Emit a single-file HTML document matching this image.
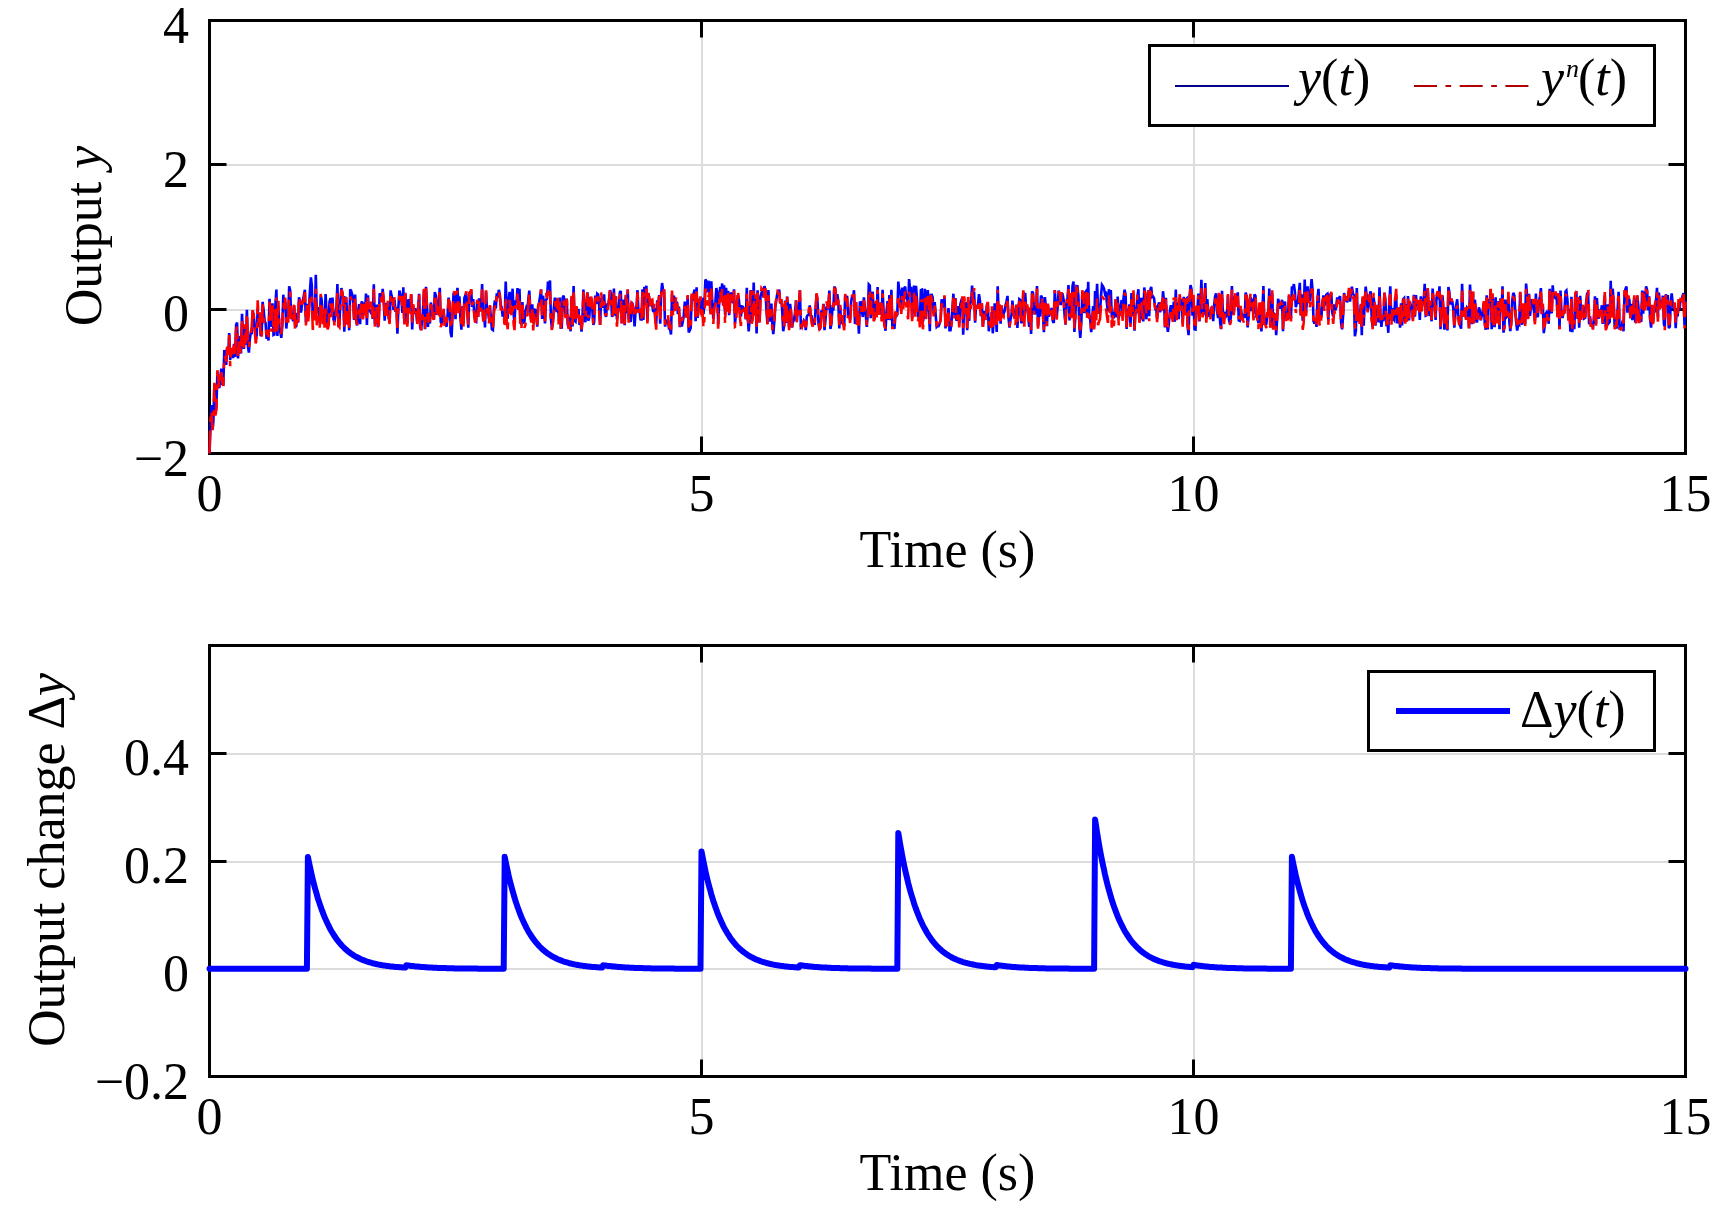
<!DOCTYPE html>
<html><head><meta charset="utf-8"><style>
html,body{margin:0;padding:0;background:#fff;overflow:hidden;}
svg{display:block;font-family:"Liberation Serif", serif;will-change:transform;}
</style></head><body><svg width="1732" height="1205" viewBox="0 0 1732 1205"><line x1="702" y1="20.5" x2="702" y2="453.5" stroke="#dcdcdc" stroke-width="2"/>
<line x1="1194" y1="20.5" x2="1194" y2="453.5" stroke="#dcdcdc" stroke-width="2"/>
<line x1="209.5" y1="165" x2="1685.5" y2="165" stroke="#dcdcdc" stroke-width="2"/>
<line x1="209.5" y1="310" x2="1685.5" y2="310" stroke="#dcdcdc" stroke-width="2"/>
<rect x="209.5" y="20.5" width="1476.0" height="433.0" fill="none" stroke="#000" stroke-width="3"/>
<line x1="701.5" y1="453.5" x2="701.5" y2="436.5" stroke="#000" stroke-width="3"/>
<line x1="701.5" y1="20.5" x2="701.5" y2="37.5" stroke="#000" stroke-width="3"/>
<line x1="1193.5" y1="453.5" x2="1193.5" y2="436.5" stroke="#000" stroke-width="3"/>
<line x1="1193.5" y1="20.5" x2="1193.5" y2="37.5" stroke="#000" stroke-width="3"/>
<line x1="209.5" y1="164.5" x2="226.5" y2="164.5" stroke="#000" stroke-width="3"/>
<line x1="1685.5" y1="164.5" x2="1668.5" y2="164.5" stroke="#000" stroke-width="3"/>
<line x1="209.5" y1="309.5" x2="226.5" y2="309.5" stroke="#000" stroke-width="3"/>
<line x1="1685.5" y1="309.5" x2="1668.5" y2="309.5" stroke="#000" stroke-width="3"/>
<g fill="none" stroke-linejoin="miter" stroke-miterlimit="3">
<polyline points="209.5,453.5 210.5,425.1 211.5,405.1 212.5,429.8 213.4,420.9 214.4,384.2 215.4,414.2 216.4,406.1 217.4,372.1 218.4,383.3 219.3,388.1 220.3,377.4 221.3,368.7 222.3,384.0 223.3,384.4 224.3,350.1 225.2,354.6 226.2,365.0 227.2,347.6 228.2,354.8 229.2,333.0 230.2,360.0 231.1,348.5 232.1,352.4 233.1,358.1 234.1,343.9 235.1,356.9 236.1,324.8 237.1,322.5 238.0,358.4 239.0,336.1 240.0,348.7 241.0,353.4 242.0,313.9 243.0,333.7 243.9,348.9 244.9,326.2 245.9,344.8 246.9,309.8 247.9,346.7 248.9,352.6 249.8,339.1 250.8,332.7 251.8,332.8 252.8,310.5 253.8,317.0 254.8,327.2 255.7,337.4 256.7,335.4 257.7,308.2 258.7,326.8 259.7,314.0 260.7,336.1 261.7,332.5 262.6,301.8 263.6,310.0 264.6,320.7 265.6,323.1 266.6,338.8 267.6,332.7 268.5,340.5 269.5,298.9 270.5,314.4 271.5,326.9 272.5,303.2 273.5,334.9 274.4,334.4 275.4,304.9 276.4,289.5 277.4,336.0 278.4,306.8 279.4,328.0 280.3,332.0 281.3,337.9 282.3,326.1 283.3,294.7 284.3,310.1 285.3,302.3 286.3,328.5 287.2,319.6 288.2,316.5 289.2,286.3 290.2,290.5 291.2,319.1 292.2,314.7 293.1,321.2 294.1,305.9 295.1,325.5 296.1,327.1 297.1,312.8 298.1,322.7 299.0,297.4 300.0,300.9 301.0,312.7 302.0,305.1 303.0,300.1 304.0,294.4 304.9,289.7 305.9,322.6 306.9,303.7 307.9,314.7 308.9,308.5 309.9,291.5 310.9,277.4 311.8,285.4 312.8,318.9 313.8,308.7 314.8,319.3 315.8,274.8 316.8,313.0 317.7,309.2 318.7,307.3 319.7,323.7 320.7,295.9 321.7,299.9 322.7,321.1 323.6,311.4 324.6,320.1 325.6,294.0 326.6,312.8 327.6,325.3 328.6,323.1 329.5,301.9 330.5,298.1 331.5,312.6 332.5,297.6 333.5,319.3 334.5,322.3 335.5,313.6 336.4,307.7 337.4,284.0 338.4,325.0 339.4,324.3 340.4,300.9 341.4,288.1 342.3,292.8 343.3,299.0 344.3,331.8 345.3,297.7 346.3,298.1 347.3,322.3 348.2,314.5 349.2,330.3 350.2,289.3 351.2,291.0 352.2,294.4 353.2,301.8 354.1,320.0 355.1,294.5 356.1,319.8 357.1,325.4 358.1,311.2 359.1,304.1 360.1,324.2 361.0,304.7 362.0,301.4 363.0,314.6 364.0,302.3 365.0,314.6 366.0,293.6 366.9,325.0 367.9,295.3 368.9,308.7 369.9,310.9 370.9,312.6 371.9,309.4 372.8,318.8 373.8,284.3 374.8,324.0 375.8,317.3 376.8,304.6 377.8,327.2 378.7,321.3 379.7,293.2 380.7,295.4 381.7,301.0 382.7,288.9 383.7,301.9 384.7,320.8 385.6,302.9 386.6,315.8 387.6,303.2 388.6,317.5 389.6,322.2 390.6,290.4 391.5,295.6 392.5,299.4 393.5,310.0 394.5,299.7 395.5,312.0 396.5,307.4 397.4,333.8 398.4,307.4 399.4,290.5 400.4,294.6 401.4,299.2 402.4,313.0 403.3,287.2 404.3,322.7 405.3,292.7 406.3,315.8 407.3,323.8 408.3,299.2 409.3,302.7 410.2,309.0 411.2,294.2 412.2,329.4 413.2,306.9 414.2,314.1 415.2,308.2 416.1,312.7 417.1,322.0 418.1,309.4 419.1,293.9 420.1,326.8 421.1,330.0 422.0,320.9 423.0,310.8 424.0,289.9 425.0,329.1 426.0,286.9 427.0,305.5 427.9,327.0 428.9,314.4 429.9,323.5 430.9,302.5 431.9,311.4 432.9,315.7 433.9,319.4 434.8,292.1 435.8,295.5 436.8,314.6 437.8,311.6 438.8,300.1 439.8,287.9 440.7,321.7 441.7,324.3 442.7,320.1 443.7,313.4 444.7,320.1 445.7,325.0 446.6,326.6 447.6,314.6 448.6,297.7 449.6,303.9 450.6,332.6 451.6,337.1 452.5,315.4 453.5,294.9 454.5,295.7 455.5,319.3 456.5,295.7 457.5,287.8 458.5,308.7 459.4,296.4 460.4,317.4 461.4,329.7 462.4,306.2 463.4,323.5 464.4,297.7 465.3,295.6 466.3,293.3 467.3,311.3 468.3,327.7 469.3,295.4 470.3,291.8 471.2,291.3 472.2,306.8 473.2,299.1 474.2,312.3 475.2,321.5 476.2,322.0 477.1,302.0 478.1,317.0 479.1,298.4 480.1,306.7 481.1,311.3 482.1,284.0 483.1,319.8 484.0,311.1 485.0,327.4 486.0,291.4 487.0,310.4 488.0,311.1 489.0,319.3 489.9,306.4 490.9,317.4 491.9,329.4 492.9,330.1 493.9,308.4 494.9,300.5 495.8,308.5 496.8,293.4 497.8,297.8 498.8,289.8 499.8,294.4 500.8,305.2 501.7,307.5 502.7,316.5 503.7,314.0 504.7,318.6 505.7,281.5 506.7,306.8 507.7,318.6 508.6,300.8 509.6,292.0 510.6,302.3 511.6,305.3 512.6,288.7 513.6,314.1 514.5,323.0 515.5,300.4 516.5,303.1 517.5,288.0 518.5,302.2 519.5,288.8 520.4,321.8 521.4,324.7 522.4,302.0 523.4,322.5 524.4,321.9 525.4,311.2 526.3,307.7 527.3,309.8 528.3,299.7 529.3,290.6 530.3,310.4 531.3,320.9 532.3,304.3 533.2,323.3 534.2,308.3 535.2,318.0 536.2,309.0 537.2,326.8 538.2,305.8 539.1,302.5 540.1,296.4 541.1,289.5 542.1,319.0 543.1,295.7 544.1,308.7 545.0,323.4 546.0,300.0 547.0,298.5 548.0,281.5 549.0,286.0 550.0,280.5 550.9,318.1 551.9,328.3 552.9,322.4 553.9,307.6 554.9,297.7 555.9,310.4 556.9,311.0 557.8,297.8 558.8,319.1 559.8,297.5 560.8,327.6 561.8,327.5 562.8,297.4 563.7,295.5 564.7,306.4 565.7,315.8 566.7,298.5 567.7,324.2 568.7,327.6 569.6,316.7 570.6,331.3 571.6,297.2 572.6,326.5 573.6,286.0 574.6,320.6 575.5,321.5 576.5,307.1 577.5,317.8 578.5,308.8 579.5,325.0 580.5,319.3 581.5,331.7 582.4,320.4 583.4,289.5 584.4,317.1 585.4,322.2 586.4,303.2 587.4,292.4 588.3,320.8 589.3,317.4 590.3,299.3 591.3,300.3 592.3,309.3 593.3,324.9 594.2,322.1 595.2,295.6 596.2,304.0 597.2,293.6 598.2,294.5 599.2,306.3 600.1,324.9 601.1,297.8 602.1,307.7 603.1,304.7 604.1,294.4 605.1,314.0 606.1,316.9 607.0,303.5 608.0,305.6 609.0,300.6 610.0,290.1 611.0,294.0 612.0,316.8 612.9,314.8 613.9,288.6 614.9,315.6 615.9,296.2 616.9,319.4 617.9,313.1 618.8,309.3 619.8,292.5 620.8,291.0 621.8,323.3 622.8,305.2 623.8,299.8 624.7,325.1 625.7,296.9 626.7,313.2 627.7,289.9 628.7,319.2 629.7,311.9 630.7,322.0 631.6,302.1 632.6,303.8 633.6,312.5 634.6,326.3 635.6,310.1 636.6,305.5 637.5,290.2 638.5,312.0 639.5,310.2 640.5,319.4 641.5,319.5 642.5,289.4 643.4,319.9 644.4,286.8 645.4,293.2 646.4,285.7 647.4,321.2 648.4,293.2 649.3,300.2 650.3,302.8 651.3,301.7 652.3,305.7 653.3,312.1 654.3,307.9 655.3,316.8 656.2,324.3 657.2,300.4 658.2,309.7 659.2,295.0 660.2,323.7 661.2,293.5 662.1,283.0 663.1,290.5 664.1,290.8 665.1,326.6 666.1,319.6 667.1,323.0 668.0,320.0 669.0,328.3 670.0,328.2 671.0,334.5 672.0,294.2 673.0,311.5 673.9,295.5 674.9,308.2 675.9,305.8 676.9,301.6 677.9,314.1 678.9,306.5 679.9,327.1 680.8,317.4 681.8,326.5 682.8,321.5 683.8,315.6 684.8,301.7 685.8,314.2 686.7,317.2 687.7,296.4 688.7,332.4 689.7,330.4 690.7,327.9 691.7,295.6 692.6,300.4 693.6,293.7 694.6,289.6 695.6,321.3 696.6,287.3 697.6,317.8 698.5,308.3 699.5,300.6 700.5,301.2 701.5,314.6 702.5,297.8 703.5,314.1 704.5,302.5 705.4,279.5 706.4,281.1 707.4,292.4 708.4,280.9 709.4,284.9 710.4,312.6 711.3,281.2 712.3,301.8 713.3,319.0 714.3,304.6 715.3,303.3 716.3,288.0 717.2,292.0 718.2,324.2 719.2,301.6 720.2,286.9 721.2,293.5 722.2,283.5 723.1,305.3 724.1,285.4 725.1,314.8 726.1,287.7 727.1,311.2 728.1,290.9 729.1,315.1 730.0,299.8 731.0,292.4 732.0,300.1 733.0,303.1 734.0,289.3 735.0,324.0 735.9,314.6 736.9,303.2 737.9,295.5 738.9,299.5 739.9,312.9 740.9,316.7 741.8,306.5 742.8,306.8 743.8,311.9 744.8,309.2 745.8,319.4 746.8,287.7 747.7,317.5 748.7,331.3 749.7,318.6 750.7,290.0 751.7,322.5 752.7,317.5 753.7,282.5 754.6,312.0 755.6,296.9 756.6,333.5 757.6,290.2 758.6,322.1 759.6,319.1 760.5,296.2 761.5,292.8 762.5,291.0 763.5,297.2 764.5,286.1 765.5,291.1 766.4,308.8 767.4,323.8 768.4,290.1 769.4,315.6 770.4,321.6 771.4,303.6 772.3,323.5 773.3,334.1 774.3,321.7 775.3,306.7 776.3,300.3 777.3,293.4 778.3,293.1 779.2,289.6 780.2,303.3 781.2,299.1 782.2,310.2 783.2,331.2 784.2,325.3 785.1,300.5 786.1,323.0 787.1,296.6 788.1,308.2 789.1,327.3 790.1,303.8 791.0,311.5 792.0,327.6 793.0,321.8 794.0,320.0 795.0,313.1 796.0,300.3 796.9,321.2 797.9,307.7 798.9,306.5 799.9,290.3 800.9,327.5 801.9,326.6 802.9,323.8 803.8,320.7 804.8,322.3 805.8,330.2 806.8,316.6 807.8,315.0 808.8,314.6 809.7,305.5 810.7,315.6 811.7,316.1 812.7,323.7 813.7,319.6 814.7,324.9 815.6,308.4 816.6,293.8 817.6,303.4 818.6,324.5 819.6,330.1 820.6,325.1 821.5,310.3 822.5,316.7 823.5,303.9 824.5,330.2 825.5,319.5 826.5,306.4 827.5,308.9 828.4,303.8 829.4,290.5 830.4,328.9 831.4,323.8 832.4,308.8 833.4,309.1 834.3,286.6 835.3,289.0 836.3,300.1 837.3,294.3 838.3,301.6 839.3,328.5 840.2,306.7 841.2,324.1 842.2,316.2 843.2,319.1 844.2,326.3 845.2,295.7 846.1,300.0 847.1,295.9 848.1,317.7 849.1,312.4 850.1,319.9 851.1,302.4 852.1,296.1 853.0,298.7 854.0,290.2 855.0,323.9 856.0,302.0 857.0,324.5 858.0,313.8 858.9,333.8 859.9,302.6 860.9,302.4 861.9,311.5 862.9,317.0 863.9,297.4 864.8,306.7 865.8,315.1 866.8,326.8 867.8,313.3 868.8,284.5 869.8,285.6 870.7,318.3 871.7,298.7 872.7,291.7 873.7,315.3 874.7,316.8 875.7,302.5 876.7,316.3 877.6,287.1 878.6,313.2 879.6,304.4 880.6,303.9 881.6,314.9 882.6,289.9 883.5,309.8 884.5,323.5 885.5,330.8 886.5,312.1 887.5,301.0 888.5,320.0 889.4,295.0 890.4,320.2 891.4,289.9 892.4,328.5 893.4,320.3 894.4,329.0 895.3,317.3 896.3,316.1 897.3,314.6 898.3,281.6 899.3,292.0 900.3,289.8 901.3,305.8 902.2,287.5 903.2,295.8 904.2,288.5 905.2,286.6 906.2,298.9 907.2,297.4 908.1,307.1 909.1,279.0 910.1,290.6 911.1,286.8 912.1,317.5 913.1,307.8 914.0,285.6 915.0,307.0 916.0,285.9 917.0,299.2 918.0,317.5 919.0,312.1 919.9,318.7 920.9,290.1 921.9,289.7 922.9,321.7 923.9,315.8 924.9,288.9 925.9,315.0 926.8,300.5 927.8,290.0 928.8,308.7 929.8,331.3 930.8,295.0 931.8,294.9 932.7,297.5 933.7,312.4 934.7,302.2 935.7,315.4 936.7,326.9 937.7,325.9 938.6,326.1 939.6,323.7 940.6,319.5 941.6,299.3 942.6,304.1 943.6,307.3 944.5,296.5 945.5,328.5 946.5,316.0 947.5,323.3 948.5,308.0 949.5,330.1 950.5,330.1 951.4,323.3 952.4,308.3 953.4,293.7 954.4,314.8 955.4,298.1 956.4,320.7 957.3,318.5 958.3,306.1 959.3,322.1 960.3,304.5 961.3,300.6 962.3,297.7 963.2,334.8 964.2,301.6 965.2,307.9 966.2,302.0 967.2,330.2 968.2,300.8 969.1,321.0 970.1,302.1 971.1,301.9 972.1,285.6 973.1,304.3 974.1,291.5 975.1,322.7 976.0,305.7 977.0,308.2 978.0,303.9 979.0,294.2 980.0,300.9 981.0,316.1 981.9,305.8 982.9,327.0 983.9,314.9 984.9,311.0 985.9,317.0 986.9,305.0 987.8,302.8 988.8,331.3 989.8,317.2 990.8,322.9 991.8,312.1 992.8,333.3 993.7,319.3 994.7,303.3 995.7,311.4 996.7,332.0 997.7,286.2 998.7,316.5 999.7,304.7 1000.6,323.8 1001.6,305.7 1002.6,317.0 1003.6,313.8 1004.6,311.1 1005.6,304.9 1006.5,301.3 1007.5,295.9 1008.5,317.8 1009.5,327.7 1010.5,319.2 1011.5,315.4 1012.4,300.5 1013.4,311.7 1014.4,311.8 1015.4,315.5 1016.4,304.6 1017.4,327.9 1018.3,312.6 1019.3,299.2 1020.3,300.0 1021.3,323.3 1022.3,319.5 1023.3,291.6 1024.3,318.9 1025.2,292.8 1026.2,309.9 1027.2,308.4 1028.2,315.7 1029.2,326.8 1030.2,310.4 1031.1,333.9 1032.1,291.4 1033.1,293.1 1034.1,313.3 1035.1,311.6 1036.1,314.2 1037.0,286.1 1038.0,326.5 1039.0,314.0 1040.0,314.7 1041.0,295.6 1042.0,297.3 1042.9,313.4 1043.9,332.3 1044.9,297.1 1045.9,307.1 1046.9,326.1 1047.9,305.2 1048.9,316.7 1049.8,313.2 1050.8,311.0 1051.8,308.0 1052.8,321.1 1053.8,322.9 1054.8,290.0 1055.7,305.1 1056.7,317.0 1057.7,306.3 1058.7,290.5 1059.7,296.9 1060.7,305.2 1061.6,292.7 1062.6,294.2 1063.6,299.6 1064.6,315.1 1065.6,324.7 1066.6,302.3 1067.5,297.7 1068.5,285.0 1069.5,320.4 1070.5,295.4 1071.5,317.3 1072.5,286.1 1073.5,281.4 1074.4,332.0 1075.4,315.3 1076.4,286.1 1077.4,286.2 1078.4,295.9 1079.4,327.5 1080.3,337.9 1081.3,323.0 1082.3,293.8 1083.3,302.8 1084.3,313.1 1085.3,292.2 1086.2,291.0 1087.2,317.8 1088.2,281.8 1089.2,313.7 1090.2,319.5 1091.2,332.2 1092.1,322.5 1093.1,306.2 1094.1,327.4 1095.1,291.0 1096.1,306.3 1097.1,283.8 1098.1,312.8 1099.0,312.8 1100.0,312.5 1101.0,295.8 1102.0,284.9 1103.0,286.3 1104.0,288.6 1104.9,293.5 1105.9,291.7 1106.9,303.2 1107.9,311.5 1108.9,289.2 1109.9,304.6 1110.8,290.1 1111.8,317.6 1112.8,312.0 1113.8,318.4 1114.8,309.7 1115.8,299.0 1116.7,317.5 1117.7,296.5 1118.7,319.4 1119.7,306.2 1120.7,305.4 1121.7,300.0 1122.7,314.9 1123.6,297.2 1124.6,289.7 1125.6,294.7 1126.6,329.0 1127.6,308.9 1128.6,311.7 1129.5,304.4 1130.5,325.2 1131.5,293.0 1132.5,315.9 1133.5,293.9 1134.5,330.7 1135.4,309.4 1136.4,310.7 1137.4,296.6 1138.4,289.2 1139.4,321.3 1140.4,318.6 1141.3,297.7 1142.3,311.0 1143.3,321.5 1144.3,287.5 1145.3,297.2 1146.3,319.3 1147.3,307.0 1148.2,290.2 1149.2,316.3 1150.2,290.0 1151.2,286.9 1152.2,297.1 1153.2,296.7 1154.1,298.3 1155.1,307.9 1156.1,307.2 1157.1,318.6 1158.1,305.8 1159.1,302.4 1160.0,312.3 1161.0,308.3 1162.0,310.4 1163.0,291.2 1164.0,301.5 1165.0,327.4 1165.9,297.7 1166.9,324.0 1167.9,331.9 1168.9,322.8 1169.9,310.6 1170.9,305.3 1171.9,308.6 1172.8,318.7 1173.8,301.5 1174.8,321.7 1175.8,289.5 1176.8,317.6 1177.8,302.5 1178.7,319.2 1179.7,297.6 1180.7,303.8 1181.7,299.1 1182.7,323.5 1183.7,296.9 1184.6,312.8 1185.6,299.9 1186.6,298.8 1187.6,326.7 1188.6,335.2 1189.6,296.8 1190.5,285.0 1191.5,289.2 1192.5,315.7 1193.5,298.5 1194.5,329.2 1195.5,329.5 1196.5,309.5 1197.4,309.3 1198.4,293.6 1199.4,321.4 1200.4,308.1 1201.4,279.7 1202.4,313.3 1203.3,315.1 1204.3,307.6 1205.3,283.1 1206.3,318.7 1207.3,299.1 1208.3,312.7 1209.2,315.7 1210.2,315.5 1211.2,308.9 1212.2,306.2 1213.2,321.1 1214.2,304.6 1215.1,296.6 1216.1,293.3 1217.1,311.1 1218.1,318.0 1219.1,294.5 1220.1,322.1 1221.1,329.1 1222.0,290.8 1223.0,317.2 1224.0,317.5 1225.0,311.6 1226.0,316.3 1227.0,314.8 1227.9,295.6 1228.9,319.6 1229.9,323.8 1230.9,316.6 1231.9,286.1 1232.9,313.2 1233.8,312.9 1234.8,297.2 1235.8,296.0 1236.8,305.7 1237.8,292.4 1238.8,320.4 1239.7,320.8 1240.7,308.6 1241.7,314.0 1242.7,315.4 1243.7,316.3 1244.7,317.9 1245.7,292.5 1246.6,295.9 1247.6,327.4 1248.6,317.6 1249.6,300.3 1250.6,296.9 1251.6,311.2 1252.5,298.6 1253.5,314.2 1254.5,294.3 1255.5,296.2 1256.5,317.0 1257.5,317.7 1258.4,323.1 1259.4,305.7 1260.4,305.9 1261.4,331.4 1262.4,312.2 1263.4,286.1 1264.3,322.3 1265.3,322.3 1266.3,324.9 1267.3,312.9 1268.3,314.4 1269.3,288.5 1270.3,326.4 1271.2,322.0 1272.2,293.6 1273.2,328.6 1274.2,313.9 1275.2,314.9 1276.2,335.2 1277.1,319.5 1278.1,298.9 1279.1,303.0 1280.1,308.6 1281.1,304.8 1282.1,299.7 1283.0,331.3 1284.0,305.3 1285.0,301.5 1286.0,318.6 1287.0,313.8 1288.0,318.9 1288.9,296.1 1289.9,313.5 1290.9,319.0 1291.9,286.5 1292.9,288.9 1293.9,284.1 1294.9,292.1 1295.8,307.1 1296.8,303.2 1297.8,303.0 1298.8,293.5 1299.8,282.8 1300.8,315.4 1301.7,294.2 1302.7,320.7 1303.7,314.3 1304.7,279.6 1305.7,314.3 1306.7,304.2 1307.6,286.4 1308.6,298.2 1309.6,301.3 1310.6,290.3 1311.6,279.2 1312.6,290.5 1313.5,321.0 1314.5,323.4 1315.5,318.3 1316.5,326.9 1317.5,298.3 1318.5,288.9 1319.5,314.6 1320.4,317.4 1321.4,316.5 1322.4,303.9 1323.4,295.3 1324.4,306.0 1325.4,299.1 1326.3,294.8 1327.3,294.0 1328.3,320.8 1329.3,295.0 1330.3,295.6 1331.3,293.4 1332.2,312.4 1333.2,316.5 1334.2,304.4 1335.2,310.4 1336.2,307.5 1337.2,297.5 1338.1,302.0 1339.1,298.0 1340.1,296.2 1341.1,323.0 1342.1,329.4 1343.1,315.8 1344.1,293.0 1345.0,301.6 1346.0,296.3 1347.0,302.4 1348.0,297.0 1349.0,290.7 1350.0,301.7 1350.9,294.4 1351.9,286.6 1352.9,293.3 1353.9,295.1 1354.9,336.2 1355.9,330.3 1356.8,288.0 1357.8,321.4 1358.8,319.3 1359.8,318.9 1360.8,304.9 1361.8,335.3 1362.7,298.0 1363.7,325.8 1364.7,302.3 1365.7,286.7 1366.7,296.0 1367.7,310.9 1368.7,305.9 1369.6,295.6 1370.6,291.2 1371.6,314.9 1372.6,327.3 1373.6,297.4 1374.6,305.7 1375.5,325.7 1376.5,304.9 1377.5,312.1 1378.5,322.5 1379.5,287.2 1380.5,314.9 1381.4,326.8 1382.4,317.4 1383.4,321.1 1384.4,292.7 1385.4,299.5 1386.4,326.2 1387.3,318.3 1388.3,332.8 1389.3,301.9 1390.3,286.4 1391.3,320.4 1392.3,308.1 1393.3,318.8 1394.2,320.0 1395.2,297.8 1396.2,297.0 1397.2,323.4 1398.2,307.6 1399.2,315.8 1400.1,327.7 1401.1,303.3 1402.1,325.4 1403.1,299.2 1404.1,298.1 1405.1,322.2 1406.0,304.0 1407.0,319.4 1408.0,296.0 1409.0,320.4 1410.0,302.0 1411.0,306.6 1411.9,306.9 1412.9,319.1 1413.9,294.7 1414.9,316.7 1415.9,295.1 1416.9,305.2 1417.9,306.0 1418.8,301.8 1419.8,320.0 1420.8,296.4 1421.8,306.8 1422.8,303.5 1423.8,298.0 1424.7,283.9 1425.7,315.8 1426.7,315.3 1427.7,288.3 1428.7,309.2 1429.7,316.0 1430.6,304.2 1431.6,321.3 1432.6,288.6 1433.6,301.0 1434.6,304.5 1435.6,320.0 1436.5,297.8 1437.5,294.1 1438.5,299.2 1439.5,286.4 1440.5,329.1 1441.5,305.8 1442.5,295.5 1443.4,310.1 1444.4,329.8 1445.4,307.2 1446.4,323.0 1447.4,330.4 1448.4,287.1 1449.3,291.6 1450.3,304.4 1451.3,300.3 1452.3,301.7 1453.3,308.3 1454.3,327.7 1455.2,316.1 1456.2,305.1 1457.2,299.3 1458.2,314.2 1459.2,323.0 1460.2,325.9 1461.1,328.6 1462.1,283.7 1463.1,315.3 1464.1,315.7 1465.1,308.2 1466.1,319.2 1467.1,307.8 1468.0,308.9 1469.0,328.3 1470.0,284.6 1471.0,305.0 1472.0,324.1 1473.0,291.7 1473.9,323.3 1474.9,299.7 1475.9,314.5 1476.9,322.6 1477.9,314.7 1478.9,307.4 1479.8,310.7 1480.8,320.3 1481.8,315.6 1482.8,311.0 1483.8,302.8 1484.8,324.3 1485.7,329.7 1486.7,295.2 1487.7,329.4 1488.7,299.1 1489.7,301.9 1490.7,289.2 1491.7,329.1 1492.6,296.7 1493.6,322.4 1494.6,327.1 1495.6,297.3 1496.6,320.5 1497.6,306.6 1498.5,301.3 1499.5,329.3 1500.5,298.4 1501.5,311.8 1502.5,286.3 1503.5,332.6 1504.4,327.4 1505.4,299.6 1506.4,317.1 1507.4,315.9 1508.4,296.4 1509.4,322.4 1510.3,331.1 1511.3,321.6 1512.3,300.2 1513.3,292.8 1514.3,295.2 1515.3,312.6 1516.3,323.7 1517.2,330.5 1518.2,324.1 1519.2,324.9 1520.2,292.6 1521.2,310.4 1522.2,324.8 1523.1,305.1 1524.1,309.9 1525.1,323.6 1526.1,283.6 1527.1,295.8 1528.1,317.9 1529.0,293.9 1530.0,315.9 1531.0,305.2 1532.0,299.1 1533.0,305.3 1534.0,311.2 1534.9,321.4 1535.9,293.6 1536.9,316.3 1537.9,316.1 1538.9,301.8 1539.9,297.4 1540.9,288.1 1541.8,314.2 1542.8,305.8 1543.8,333.2 1544.8,324.5 1545.8,313.3 1546.8,312.0 1547.7,313.2 1548.7,323.8 1549.7,288.9 1550.7,309.7 1551.7,313.3 1552.7,285.3 1553.6,295.8 1554.6,297.1 1555.6,293.3 1556.6,295.6 1557.6,316.5 1558.6,293.6 1559.5,329.0 1560.5,290.5 1561.5,313.5 1562.5,317.9 1563.5,312.7 1564.5,312.2 1565.5,291.5 1566.4,290.5 1567.4,299.6 1568.4,318.6 1569.4,309.0 1570.4,331.7 1571.4,296.7 1572.3,332.2 1573.3,314.1 1574.3,329.1 1575.3,295.0 1576.3,291.1 1577.3,318.7 1578.2,299.7 1579.2,327.6 1580.2,295.9 1581.2,314.6 1582.2,311.3 1583.2,306.7 1584.1,318.5 1585.1,317.8 1586.1,302.8 1587.1,293.7 1588.1,292.5 1589.1,324.3 1590.1,316.3 1591.0,326.1 1592.0,323.0 1593.0,328.7 1594.0,316.1 1595.0,296.2 1596.0,323.9 1596.9,298.1 1597.9,315.8 1598.9,318.7 1599.9,309.5 1600.9,311.9 1601.9,305.3 1602.8,323.9 1603.8,315.9 1604.8,295.7 1605.8,327.3 1606.8,318.7 1607.8,304.4 1608.7,323.1 1609.7,321.9 1610.7,280.8 1611.7,314.8 1612.7,288.7 1613.7,302.5 1614.7,327.4 1615.6,321.7 1616.6,328.6 1617.6,309.7 1618.6,291.9 1619.6,329.8 1620.6,326.3 1621.5,329.3 1622.5,320.8 1623.5,331.3 1624.5,294.6 1625.5,288.9 1626.5,286.6 1627.4,312.7 1628.4,299.5 1629.4,300.1 1630.4,318.3 1631.4,303.9 1632.4,320.2 1633.3,308.2 1634.3,297.7 1635.3,322.4 1636.3,320.2 1637.3,295.6 1638.3,305.3 1639.3,320.5 1640.2,318.4 1641.2,322.0 1642.2,290.6 1643.2,313.7 1644.2,291.3 1645.2,302.4 1646.1,286.4 1647.1,290.2 1648.1,310.3 1649.1,296.4 1650.1,319.1 1651.1,327.6 1652.0,305.1 1653.0,321.6 1654.0,309.8 1655.0,312.3 1656.0,300.6 1657.0,287.8 1657.9,317.0 1658.9,292.5 1659.9,306.3 1660.9,300.2 1661.9,307.8 1662.9,295.7 1663.9,323.9 1664.8,326.7 1665.8,294.2 1666.8,298.9 1667.8,295.1 1668.8,328.2 1669.8,326.5 1670.7,303.0 1671.7,293.3 1672.7,303.5 1673.7,308.2 1674.7,306.4 1675.7,328.2 1676.6,310.9 1677.6,316.3 1678.6,305.4 1679.6,309.4 1680.6,298.9 1681.6,301.3 1682.5,296.4 1683.5,293.1 1684.5,325.3 1685.5,300.1" stroke="#0000ff" stroke-width="2.6"/>
<polyline points="209.5,453.5 210.5,419.5 211.5,410.3 212.5,430.1 213.4,420.5 214.4,382.8 215.4,415.5 216.4,409.0 217.4,370.2 218.4,380.7 219.3,388.1 220.3,378.7 221.3,369.1 222.3,382.7 223.3,385.8 224.3,355.2 225.2,357.7 226.2,362.0 227.2,346.6 228.2,355.8 229.2,335.1 230.2,366.3 231.1,349.3 232.1,350.5 233.1,354.2 234.1,342.3 235.1,355.9 236.1,330.1 237.1,325.8 238.0,356.0 239.0,340.1 240.0,346.9 241.0,354.0 242.0,318.0 243.0,336.8 243.9,347.8 244.9,324.2 245.9,343.4 246.9,312.5 247.9,340.9 248.9,347.9 249.8,339.9 250.8,332.9 251.8,326.9 252.8,307.4 253.8,315.7 254.8,330.3 255.7,343.5 256.7,336.8 257.7,300.4 258.7,322.8 259.7,312.4 260.7,339.1 261.7,339.5 262.6,304.3 263.6,314.9 264.6,326.4 265.6,325.6 266.6,335.0 267.6,331.1 268.5,337.1 269.5,301.9 270.5,317.5 271.5,331.7 272.5,305.2 273.5,328.2 274.4,333.7 275.4,310.4 276.4,297.5 277.4,334.4 278.4,300.9 279.4,327.0 280.3,331.0 281.3,334.0 282.3,322.0 283.3,303.3 284.3,313.1 285.3,297.6 286.3,324.6 287.2,320.3 288.2,322.6 289.2,291.6 290.2,293.1 291.2,318.6 292.2,314.4 293.1,319.5 294.1,300.9 295.1,331.1 296.1,329.8 297.1,315.3 298.1,322.0 299.0,296.2 300.0,300.6 301.0,308.9 302.0,303.9 303.0,302.5 304.0,298.6 304.9,292.3 305.9,325.5 306.9,305.1 307.9,325.6 308.9,312.8 309.9,298.0 310.9,293.3 311.8,299.1 312.8,330.0 313.8,316.1 314.8,324.5 315.8,288.7 316.8,325.2 317.7,320.9 318.7,316.0 319.7,328.7 320.7,294.0 321.7,304.0 322.7,324.3 323.6,309.8 324.6,327.8 325.6,305.0 326.6,321.2 327.6,329.4 328.6,326.1 329.5,307.3 330.5,303.7 331.5,317.1 332.5,303.4 333.5,315.9 334.5,325.3 335.5,317.4 336.4,314.0 337.4,291.8 338.4,325.9 339.4,327.2 340.4,306.8 341.4,289.6 342.3,292.0 343.3,300.8 344.3,327.9 345.3,296.3 346.3,301.5 347.3,324.6 348.2,310.9 349.2,328.6 350.2,296.4 351.2,300.0 352.2,296.3 353.2,298.2 354.1,319.3 355.1,296.9 356.1,320.0 357.1,324.8 358.1,314.0 359.1,309.4 360.1,318.4 361.0,304.7 362.0,304.9 363.0,320.4 364.0,304.0 365.0,315.4 366.0,299.2 366.9,318.2 367.9,296.5 368.9,312.9 369.9,307.0 370.9,301.8 371.9,308.4 372.8,319.6 373.8,288.7 374.8,326.5 375.8,316.7 376.8,307.1 377.8,329.4 378.7,324.0 379.7,296.4 380.7,297.1 381.7,303.3 382.7,292.0 383.7,298.3 384.7,317.8 385.6,303.0 386.6,316.0 387.6,298.5 388.6,314.1 389.6,324.0 390.6,293.1 391.5,301.0 392.5,298.7 393.5,306.6 394.5,297.1 395.5,311.4 396.5,306.4 397.4,327.9 398.4,306.8 399.4,295.7 400.4,300.4 401.4,296.2 402.4,309.3 403.3,292.9 404.3,325.9 405.3,293.1 406.3,314.7 407.3,326.7 408.3,304.1 409.3,311.1 410.2,312.2 411.2,294.1 412.2,324.7 413.2,304.2 414.2,312.9 415.2,308.0 416.1,309.2 417.1,324.8 418.1,308.7 419.1,293.7 420.1,323.2 421.1,330.1 422.0,327.7 423.0,310.9 424.0,288.9 425.0,328.7 426.0,288.2 427.0,307.6 427.9,325.4 428.9,312.7 429.9,321.7 430.9,300.0 431.9,307.4 432.9,318.2 433.9,319.6 434.8,293.5 435.8,297.8 436.8,311.9 437.8,313.2 438.8,299.0 439.8,289.0 440.7,327.2 441.7,323.8 442.7,315.1 443.7,308.8 444.7,327.5 445.7,328.3 446.6,321.2 447.6,314.0 448.6,298.9 449.6,304.5 450.6,329.3 451.6,328.6 452.5,311.2 453.5,293.1 454.5,291.4 455.5,314.9 456.5,292.6 457.5,290.8 458.5,313.2 459.4,298.6 460.4,314.9 461.4,324.0 462.4,306.0 463.4,326.9 464.4,302.2 465.3,295.9 466.3,291.4 467.3,311.4 468.3,325.5 469.3,291.9 470.3,293.3 471.2,289.2 472.2,305.1 473.2,301.7 474.2,314.6 475.2,322.7 476.2,318.1 477.1,299.7 478.1,316.7 479.1,301.0 480.1,309.1 481.1,311.3 482.1,289.2 483.1,323.5 484.0,309.7 485.0,323.7 486.0,290.4 487.0,309.7 488.0,316.4 489.0,323.4 489.9,305.1 490.9,313.5 491.9,325.1 492.9,329.2 493.9,313.8 494.9,305.6 495.8,308.4 496.8,292.1 497.8,291.6 498.8,290.5 499.8,296.3 500.8,310.1 501.7,308.1 502.7,313.6 503.7,313.5 504.7,328.8 505.7,296.4 506.7,320.0 507.7,329.3 508.6,310.6 509.6,299.8 510.6,311.9 511.6,315.0 512.6,302.4 513.6,323.6 514.5,330.1 515.5,305.2 516.5,307.9 517.5,293.5 518.5,312.8 519.5,296.9 520.4,329.8 521.4,329.4 522.4,304.9 523.4,320.9 524.4,327.7 525.4,325.1 526.3,314.5 527.3,316.1 528.3,306.4 529.3,292.6 530.3,314.9 531.3,322.7 532.3,305.8 533.2,330.5 534.2,314.1 535.2,317.0 536.2,314.0 537.2,328.4 538.2,306.8 539.1,303.9 540.1,298.5 541.1,289.6 542.1,315.4 543.1,302.5 544.1,311.6 545.0,321.4 546.0,292.5 547.0,298.6 548.0,290.2 549.0,295.4 550.0,291.3 550.9,325.1 551.9,329.9 552.9,322.1 553.9,312.9 554.9,301.1 555.9,311.8 556.9,308.6 557.8,298.0 558.8,327.5 559.8,301.5 560.8,328.5 561.8,319.9 562.8,299.7 563.7,301.3 564.7,313.2 565.7,318.0 566.7,295.1 567.7,318.8 568.7,329.2 569.6,320.0 570.6,329.7 571.6,295.9 572.6,325.3 573.6,288.9 574.6,321.4 575.5,317.5 576.5,305.5 577.5,317.4 578.5,314.3 579.5,326.1 580.5,313.9 581.5,329.5 582.4,321.0 583.4,291.6 584.4,318.5 585.4,319.0 586.4,301.5 587.4,292.8 588.3,317.9 589.3,314.5 590.3,300.0 591.3,296.7 592.3,304.3 593.3,322.9 594.2,322.8 595.2,298.1 596.2,300.3 597.2,292.2 598.2,297.2 599.2,312.5 600.1,324.9 601.1,292.5 602.1,300.8 603.1,305.9 604.1,301.4 605.1,314.1 606.1,315.9 607.0,305.9 608.0,309.9 609.0,300.2 610.0,290.5 611.0,294.3 612.0,314.0 612.9,314.6 613.9,290.9 614.9,313.7 615.9,296.3 616.9,326.6 617.9,311.3 618.8,308.5 619.8,296.0 620.8,293.0 621.8,324.0 622.8,304.2 623.8,303.6 624.7,324.1 625.7,294.9 626.7,306.9 627.7,289.4 628.7,322.6 629.7,308.1 630.7,316.7 631.6,303.1 632.6,304.5 633.6,308.6 634.6,316.7 635.6,309.0 636.6,314.6 637.5,292.4 638.5,310.8 639.5,310.2 640.5,319.5 641.5,319.7 642.5,289.7 643.4,317.1 644.4,293.4 645.4,305.1 646.4,288.6 647.4,323.5 648.4,290.3 649.3,297.5 650.3,306.3 651.3,300.2 652.3,299.6 653.3,311.4 654.3,303.4 655.3,320.8 656.2,329.6 657.2,301.6 658.2,310.3 659.2,291.8 660.2,319.3 661.2,295.6 662.1,288.4 663.1,292.1 664.1,289.3 665.1,323.8 666.1,323.5 667.1,320.8 668.0,315.1 669.0,325.6 670.0,324.1 671.0,329.8 672.0,290.6 673.0,315.1 673.9,303.8 674.9,311.1 675.9,298.8 676.9,296.1 677.9,314.2 678.9,307.7 679.9,326.4 680.8,318.3 681.8,321.0 682.8,317.4 683.8,316.7 684.8,306.0 685.8,316.3 686.7,316.6 687.7,295.0 688.7,330.0 689.7,330.3 690.7,328.1 691.7,293.5 692.6,303.4 693.6,299.4 694.6,289.6 695.6,321.2 696.6,291.2 697.6,320.2 698.5,308.4 699.5,301.4 700.5,296.4 701.5,319.9 702.5,310.1 703.5,328.6 704.5,318.2 705.4,288.6 706.4,291.8 707.4,305.7 708.4,296.9 709.4,292.0 710.4,316.4 711.3,288.6 712.3,311.4 713.3,323.8 714.3,307.9 715.3,305.2 716.3,300.9 717.2,301.9 718.2,328.8 719.2,303.2 720.2,291.1 721.2,301.9 722.2,288.8 723.1,308.7 724.1,295.9 725.1,324.6 726.1,292.2 727.1,311.9 728.1,293.0 729.1,316.8 730.0,303.8 731.0,294.3 732.0,300.1 733.0,304.0 734.0,289.0 735.0,326.8 735.9,326.2 736.9,307.0 737.9,289.7 738.9,301.2 739.9,317.3 740.9,326.0 741.8,311.4 742.8,310.0 743.8,310.5 744.8,304.1 745.8,318.9 746.8,292.9 747.7,318.2 748.7,326.0 749.7,315.6 750.7,290.5 751.7,323.7 752.7,318.7 753.7,290.9 754.6,315.7 755.6,294.5 756.6,328.6 757.6,292.5 758.6,320.4 759.6,322.8 760.5,298.8 761.5,288.2 762.5,289.5 763.5,298.4 764.5,291.4 765.5,288.3 766.4,306.9 767.4,324.4 768.4,294.2 769.4,313.6 770.4,317.2 771.4,309.1 772.3,329.1 773.3,329.8 774.3,319.3 775.3,305.1 776.3,298.5 777.3,289.6 778.3,295.6 779.2,290.3 780.2,303.3 781.2,299.2 782.2,305.4 783.2,327.1 784.2,327.9 785.1,298.0 786.1,321.9 787.1,296.8 788.1,310.7 789.1,330.3 790.1,306.5 791.0,311.6 792.0,327.4 793.0,319.4 794.0,317.4 795.0,315.8 796.0,300.3 796.9,323.4 797.9,311.6 798.9,304.6 799.9,290.1 800.9,325.6 801.9,327.2 802.9,322.4 803.8,321.1 804.8,323.6 805.8,327.3 806.8,321.6 807.8,321.0 808.8,310.0 809.7,302.8 810.7,315.0 811.7,323.4 812.7,326.5 813.7,319.3 814.7,323.3 815.6,310.0 816.6,293.3 817.6,299.9 818.6,321.9 819.6,329.0 820.6,327.7 821.5,311.9 822.5,315.0 823.5,301.4 824.5,327.0 825.5,319.7 826.5,301.2 827.5,306.3 828.4,308.5 829.4,292.0 830.4,325.7 831.4,322.2 832.4,306.4 833.4,306.4 834.3,288.6 835.3,288.7 836.3,305.4 837.3,298.1 838.3,300.7 839.3,324.9 840.2,304.8 841.2,317.5 842.2,315.2 843.2,323.9 844.2,330.2 845.2,294.0 846.1,299.9 847.1,298.4 848.1,318.2 849.1,312.7 850.1,323.0 851.1,304.8 852.1,294.7 853.0,297.2 854.0,290.6 855.0,319.4 856.0,300.6 857.0,325.1 858.0,307.6 858.9,325.8 859.9,307.4 860.9,307.4 861.9,315.7 862.9,315.6 863.9,300.1 864.8,310.0 865.8,313.1 866.8,325.7 867.8,318.5 868.8,294.3 869.8,289.0 870.7,314.6 871.7,293.3 872.7,293.2 873.7,321.2 874.7,318.8 875.7,300.8 876.7,317.5 877.6,289.7 878.6,314.9 879.6,299.3 880.6,300.3 881.6,321.4 882.6,293.5 883.5,316.5 884.5,325.9 885.5,328.4 886.5,311.2 887.5,303.5 888.5,318.9 889.4,294.5 890.4,319.1 891.4,294.3 892.4,329.1 893.4,319.3 894.4,323.7 895.3,311.4 896.3,315.5 897.3,313.7 898.3,294.1 899.3,305.8 900.3,304.7 901.3,313.9 902.2,296.0 903.2,309.1 904.2,298.6 905.2,291.4 906.2,304.4 907.2,311.9 908.1,319.3 909.1,291.5 910.1,297.8 911.1,296.4 912.1,321.1 913.1,311.9 914.0,292.8 915.0,320.0 916.0,295.7 917.0,307.5 918.0,321.2 919.0,314.5 919.9,327.3 920.9,301.8 921.9,299.5 922.9,329.3 923.9,317.7 924.9,297.7 925.9,322.0 926.8,307.6 927.8,296.1 928.8,306.2 929.8,325.3 930.8,291.7 931.8,298.6 932.7,306.4 933.7,316.3 934.7,305.6 935.7,313.8 936.7,325.5 937.7,325.3 938.6,328.6 939.6,323.3 940.6,320.1 941.6,303.4 942.6,305.7 943.6,305.3 944.5,295.4 945.5,326.5 946.5,313.9 947.5,327.2 948.5,312.6 949.5,327.2 950.5,327.7 951.4,326.1 952.4,313.9 953.4,297.9 954.4,318.5 955.4,298.8 956.4,320.6 957.3,318.3 958.3,310.4 959.3,327.4 960.3,311.4 961.3,305.6 962.3,295.3 963.2,328.2 964.2,296.3 965.2,306.2 966.2,305.8 967.2,328.4 968.2,292.9 969.1,318.7 970.1,307.2 971.1,307.5 972.1,291.6 973.1,304.8 974.1,288.1 975.1,320.6 976.0,302.2 977.0,305.9 978.0,308.6 979.0,303.7 980.0,307.0 981.0,316.1 981.9,303.1 982.9,327.0 983.9,310.1 984.9,311.2 985.9,321.4 986.9,306.3 987.8,301.9 988.8,325.2 989.8,317.9 990.8,327.9 991.8,305.0 992.8,327.1 993.7,320.7 994.7,311.4 995.7,311.2 996.7,329.1 997.7,290.0 998.7,320.7 999.7,304.5 1000.6,321.1 1001.6,305.1 1002.6,315.5 1003.6,316.9 1004.6,310.3 1005.6,305.5 1006.5,305.0 1007.5,301.1 1008.5,319.1 1009.5,326.6 1010.5,319.7 1011.5,316.6 1012.4,304.6 1013.4,312.8 1014.4,317.2 1015.4,326.4 1016.4,305.0 1017.4,325.9 1018.3,308.4 1019.3,301.1 1020.3,303.9 1021.3,323.7 1022.3,315.3 1023.3,290.3 1024.3,326.7 1025.2,301.5 1026.2,311.9 1027.2,304.3 1028.2,313.7 1029.2,325.3 1030.2,306.5 1031.1,330.3 1032.1,293.6 1033.1,296.4 1034.1,314.6 1035.1,307.6 1036.1,308.0 1037.0,288.6 1038.0,328.7 1039.0,317.8 1040.0,313.1 1041.0,296.9 1042.0,299.3 1042.9,312.4 1043.9,330.1 1044.9,302.8 1045.9,313.2 1046.9,325.6 1047.9,303.6 1048.9,311.5 1049.8,317.5 1050.8,319.0 1051.8,308.3 1052.8,320.0 1053.8,313.7 1054.8,290.3 1055.7,310.1 1056.7,319.7 1057.7,308.3 1058.7,291.3 1059.7,293.5 1060.7,301.6 1061.6,292.1 1062.6,298.2 1063.6,301.5 1064.6,312.2 1065.6,324.2 1066.6,299.2 1067.5,303.4 1068.5,289.1 1069.5,316.8 1070.5,293.0 1071.5,321.2 1072.5,290.1 1073.5,288.0 1074.4,328.5 1075.4,316.7 1076.4,287.8 1077.4,289.1 1078.4,301.9 1079.4,324.8 1080.3,330.3 1081.3,319.9 1082.3,290.2 1083.3,296.1 1084.3,312.2 1085.3,298.0 1086.2,292.0 1087.2,317.7 1088.2,293.1 1089.2,319.0 1090.2,316.5 1091.2,328.6 1092.1,323.7 1093.1,307.0 1094.1,329.5 1095.1,307.2 1096.1,323.3 1097.1,298.5 1098.1,325.1 1099.0,321.7 1100.0,319.1 1101.0,305.6 1102.0,296.0 1103.0,298.3 1104.0,298.8 1104.9,301.4 1105.9,307.3 1106.9,315.9 1107.9,322.9 1108.9,293.6 1109.9,313.1 1110.8,302.7 1111.8,327.6 1112.8,315.1 1113.8,326.3 1114.8,315.4 1115.8,299.2 1116.7,316.0 1117.7,301.4 1118.7,325.3 1119.7,314.1 1120.7,313.0 1121.7,308.8 1122.7,320.8 1123.6,300.7 1124.6,292.8 1125.6,295.8 1126.6,329.2 1127.6,309.7 1128.6,315.8 1129.5,306.0 1130.5,327.0 1131.5,299.3 1132.5,312.7 1133.5,290.2 1134.5,329.7 1135.4,312.7 1136.4,309.7 1137.4,295.0 1138.4,298.2 1139.4,322.8 1140.4,317.4 1141.3,299.1 1142.3,312.6 1143.3,319.3 1144.3,290.7 1145.3,294.5 1146.3,315.4 1147.3,307.0 1148.2,290.8 1149.2,321.3 1150.2,291.7 1151.2,292.7 1152.2,299.5 1153.2,301.2 1154.1,301.2 1155.1,307.3 1156.1,305.6 1157.1,322.1 1158.1,306.5 1159.1,301.8 1160.0,309.8 1161.0,301.5 1162.0,311.0 1163.0,296.2 1164.0,299.7 1165.0,326.8 1165.9,297.6 1166.9,318.4 1167.9,327.1 1168.9,325.4 1169.9,316.7 1170.9,308.1 1171.9,316.4 1172.8,321.9 1173.8,297.6 1174.8,314.6 1175.8,293.2 1176.8,320.1 1177.8,301.0 1178.7,315.3 1179.7,294.2 1180.7,302.9 1181.7,301.5 1182.7,326.6 1183.7,298.4 1184.6,315.4 1185.6,298.9 1186.6,294.4 1187.6,325.3 1188.6,329.9 1189.6,298.1 1190.5,289.1 1191.5,292.0 1192.5,311.9 1193.5,294.9 1194.5,329.6 1195.5,328.1 1196.5,305.7 1197.4,308.0 1198.4,295.3 1199.4,320.6 1200.4,310.8 1201.4,288.2 1202.4,317.6 1203.3,313.3 1204.3,304.6 1205.3,288.0 1206.3,322.7 1207.3,301.0 1208.3,312.8 1209.2,313.4 1210.2,319.6 1211.2,310.6 1212.2,306.0 1213.2,313.8 1214.2,308.9 1215.1,303.3 1216.1,294.1 1217.1,306.6 1218.1,314.2 1219.1,289.4 1220.1,323.2 1221.1,328.6 1222.0,291.7 1223.0,319.2 1224.0,324.1 1225.0,314.1 1226.0,315.9 1227.0,315.4 1227.9,294.1 1228.9,318.1 1229.9,324.9 1230.9,321.3 1231.9,289.9 1232.9,312.2 1233.8,315.1 1234.8,297.3 1235.8,290.5 1236.8,308.7 1237.8,295.7 1238.8,319.2 1239.7,315.6 1240.7,305.9 1241.7,320.4 1242.7,318.8 1243.7,322.5 1244.7,319.3 1245.7,294.6 1246.6,296.6 1247.6,325.7 1248.6,315.6 1249.6,299.7 1250.6,293.8 1251.6,306.6 1252.5,299.5 1253.5,320.4 1254.5,297.1 1255.5,295.4 1256.5,313.1 1257.5,320.5 1258.4,329.1 1259.4,303.6 1260.4,303.5 1261.4,330.5 1262.4,308.3 1263.4,290.4 1264.3,329.3 1265.3,324.7 1266.3,328.1 1267.3,311.9 1268.3,314.1 1269.3,293.3 1270.3,327.7 1271.2,322.0 1272.2,290.4 1273.2,329.7 1274.2,319.5 1275.2,313.7 1276.2,330.5 1277.1,318.3 1278.1,304.8 1279.1,304.2 1280.1,304.5 1281.1,302.7 1282.1,304.3 1283.0,329.1 1284.0,302.5 1285.0,305.6 1286.0,321.2 1287.0,312.6 1288.0,320.4 1288.9,293.4 1289.9,318.6 1290.9,323.6 1291.9,296.5 1292.9,298.0 1293.9,294.1 1294.9,301.6 1295.8,312.7 1296.8,310.2 1297.8,306.8 1298.8,305.1 1299.8,290.1 1300.8,319.2 1301.7,297.7 1302.7,329.8 1303.7,322.4 1304.7,290.2 1305.7,319.8 1306.7,308.7 1307.6,291.3 1308.6,302.6 1309.6,309.7 1310.6,300.5 1311.6,288.7 1312.6,290.3 1313.5,322.8 1314.5,324.6 1315.5,318.2 1316.5,324.4 1317.5,297.9 1318.5,294.9 1319.5,324.5 1320.4,327.4 1321.4,316.7 1322.4,301.2 1323.4,297.6 1324.4,310.8 1325.4,303.2 1326.3,291.3 1327.3,292.9 1328.3,325.5 1329.3,300.0 1330.3,297.3 1331.3,291.7 1332.2,312.7 1333.2,323.9 1334.2,310.3 1335.2,314.7 1336.2,313.7 1337.2,296.2 1338.1,302.7 1339.1,301.5 1340.1,302.6 1341.1,324.5 1342.1,328.1 1343.1,313.7 1344.1,294.2 1345.0,302.8 1346.0,296.7 1347.0,303.9 1348.0,297.0 1349.0,287.9 1350.0,300.0 1350.9,293.7 1351.9,288.9 1352.9,298.9 1353.9,295.8 1354.9,327.2 1355.9,329.0 1356.8,291.1 1357.8,320.4 1358.8,317.5 1359.8,324.8 1360.8,303.4 1361.8,329.3 1362.7,296.4 1363.7,317.8 1364.7,298.7 1365.7,291.6 1366.7,301.0 1367.7,312.4 1368.7,303.8 1369.6,294.0 1370.6,300.1 1371.6,319.8 1372.6,330.2 1373.6,292.9 1374.6,303.9 1375.5,327.8 1376.5,307.0 1377.5,305.4 1378.5,318.0 1379.5,292.6 1380.5,320.3 1381.4,324.4 1382.4,317.3 1383.4,316.1 1384.4,292.7 1385.4,302.4 1386.4,325.3 1387.3,313.7 1388.3,326.2 1389.3,300.4 1390.3,294.0 1391.3,326.6 1392.3,309.2 1393.3,320.1 1394.2,318.4 1395.2,298.6 1396.2,288.8 1397.2,318.6 1398.2,307.3 1399.2,317.3 1400.1,327.9 1401.1,304.8 1402.1,323.9 1403.1,301.1 1404.1,298.6 1405.1,324.5 1406.0,305.0 1407.0,321.6 1408.0,297.9 1409.0,318.3 1410.0,301.1 1411.0,302.8 1411.9,305.9 1412.9,321.2 1413.9,294.9 1414.9,315.4 1415.9,297.6 1416.9,310.2 1417.9,311.4 1418.8,300.1 1419.8,316.0 1420.8,297.9 1421.8,311.5 1422.8,298.9 1423.8,300.7 1424.7,290.1 1425.7,313.1 1426.7,315.6 1427.7,288.0 1428.7,308.5 1429.7,312.7 1430.6,300.6 1431.6,319.9 1432.6,289.6 1433.6,298.3 1434.6,302.8 1435.6,318.1 1436.5,295.9 1437.5,291.2 1438.5,296.7 1439.5,291.5 1440.5,326.6 1441.5,298.8 1442.5,293.5 1443.4,310.2 1444.4,327.1 1445.4,307.3 1446.4,320.2 1447.4,329.2 1448.4,290.5 1449.3,294.9 1450.3,303.4 1451.3,298.5 1452.3,301.8 1453.3,310.8 1454.3,325.4 1455.2,318.2 1456.2,308.9 1457.2,305.7 1458.2,317.7 1459.2,325.1 1460.2,315.9 1461.1,322.6 1462.1,290.7 1463.1,321.1 1464.1,313.7 1465.1,307.4 1466.1,319.8 1467.1,309.4 1468.0,306.9 1469.0,328.5 1470.0,290.0 1471.0,307.5 1472.0,324.3 1473.0,288.5 1473.9,323.4 1474.9,299.4 1475.9,309.9 1476.9,319.5 1477.9,314.3 1478.9,310.0 1479.8,314.7 1480.8,320.0 1481.8,312.8 1482.8,311.9 1483.8,301.1 1484.8,322.1 1485.7,328.6 1486.7,294.9 1487.7,327.6 1488.7,303.5 1489.7,307.1 1490.7,288.8 1491.7,322.4 1492.6,292.6 1493.6,325.0 1494.6,323.2 1495.6,302.6 1496.6,323.5 1497.6,305.5 1498.5,301.7 1499.5,325.2 1500.5,296.8 1501.5,312.5 1502.5,289.2 1503.5,330.1 1504.4,327.2 1505.4,304.0 1506.4,319.6 1507.4,313.3 1508.4,291.7 1509.4,315.8 1510.3,328.4 1511.3,324.4 1512.3,306.8 1513.3,297.4 1514.3,298.1 1515.3,310.4 1516.3,320.3 1517.2,325.1 1518.2,321.0 1519.2,322.0 1520.2,291.7 1521.2,313.1 1522.2,325.6 1523.1,303.3 1524.1,311.0 1525.1,329.3 1526.1,288.6 1527.1,290.1 1528.1,319.3 1529.0,294.9 1530.0,311.1 1531.0,301.7 1532.0,302.6 1533.0,299.2 1534.0,311.7 1534.9,324.3 1535.9,296.1 1536.9,311.7 1537.9,311.6 1538.9,298.1 1539.9,301.2 1540.9,288.2 1541.8,314.0 1542.8,303.4 1543.8,327.0 1544.8,325.7 1545.8,319.7 1546.8,318.6 1547.7,311.5 1548.7,320.8 1549.7,290.5 1550.7,312.2 1551.7,314.2 1552.7,292.0 1553.6,296.5 1554.6,297.6 1555.6,291.4 1556.6,299.0 1557.6,317.5 1558.6,289.4 1559.5,329.4 1560.5,292.2 1561.5,312.6 1562.5,316.1 1563.5,310.3 1564.5,313.5 1565.5,293.7 1566.4,296.1 1567.4,298.6 1568.4,320.6 1569.4,311.7 1570.4,327.3 1571.4,298.8 1572.3,328.8 1573.3,313.6 1574.3,324.1 1575.3,294.1 1576.3,291.3 1577.3,318.2 1578.2,293.2 1579.2,322.9 1580.2,300.1 1581.2,319.8 1582.2,311.5 1583.2,304.4 1584.1,315.5 1585.1,322.1 1586.1,305.4 1587.1,296.6 1588.1,288.0 1589.1,316.8 1590.1,319.5 1591.0,327.3 1592.0,321.8 1593.0,329.5 1594.0,319.9 1595.0,299.5 1596.0,325.7 1596.9,302.9 1597.9,317.9 1598.9,320.8 1599.9,309.9 1600.9,311.9 1601.9,311.4 1602.8,325.5 1603.8,306.4 1604.8,292.0 1605.8,330.2 1606.8,327.1 1607.8,305.5 1608.7,316.9 1609.7,319.8 1610.7,288.3 1611.7,317.4 1612.7,291.2 1613.7,304.2 1614.7,329.3 1615.6,319.2 1616.6,327.3 1617.6,307.5 1618.6,291.7 1619.6,328.3 1620.6,329.4 1621.5,329.3 1622.5,318.9 1623.5,323.4 1624.5,289.1 1625.5,297.4 1626.5,290.4 1627.4,305.7 1628.4,295.4 1629.4,300.2 1630.4,318.1 1631.4,302.6 1632.4,318.2 1633.3,310.7 1634.3,295.4 1635.3,321.1 1636.3,323.1 1637.3,294.1 1638.3,310.7 1639.3,323.1 1640.2,317.0 1641.2,318.6 1642.2,292.2 1643.2,310.3 1644.2,291.2 1645.2,310.4 1646.1,290.4 1647.1,291.3 1648.1,306.3 1649.1,296.9 1650.1,318.3 1651.1,325.6 1652.0,304.7 1653.0,328.2 1654.0,310.6 1655.0,304.0 1656.0,297.7 1657.0,292.2 1657.9,321.8 1658.9,293.5 1659.9,309.3 1660.9,303.9 1661.9,310.8 1662.9,294.3 1663.9,317.7 1664.8,330.2 1665.8,295.1 1666.8,302.3 1667.8,299.9 1668.8,325.2 1669.8,321.7 1670.7,303.8 1671.7,298.6 1672.7,302.3 1673.7,305.1 1674.7,302.5 1675.7,324.2 1676.6,311.3 1677.6,316.5 1678.6,299.1 1679.6,308.4 1680.6,299.8 1681.6,300.8 1682.5,291.8 1683.5,293.9 1684.5,328.4 1685.5,302.0" stroke="#ff0000" stroke-width="2.6" stroke-dasharray="23 8.5 5.7 8.5"/>
</g>
<line x1="702" y1="645.5" x2="702" y2="1076.5" stroke="#dcdcdc" stroke-width="2"/>
<line x1="1194" y1="645.5" x2="1194" y2="1076.5" stroke="#dcdcdc" stroke-width="2"/>
<line x1="209.5" y1="754" x2="1685.5" y2="754" stroke="#dcdcdc" stroke-width="2"/>
<line x1="209.5" y1="862" x2="1685.5" y2="862" stroke="#dcdcdc" stroke-width="2"/>
<line x1="209.5" y1="969" x2="1685.5" y2="969" stroke="#dcdcdc" stroke-width="2"/>
<rect x="209.5" y="645.5" width="1476.0" height="431.0" fill="none" stroke="#000" stroke-width="3"/>
<line x1="701.5" y1="1076.5" x2="701.5" y2="1059.5" stroke="#000" stroke-width="3"/>
<line x1="701.5" y1="645.5" x2="701.5" y2="662.5" stroke="#000" stroke-width="3"/>
<line x1="1193.5" y1="1076.5" x2="1193.5" y2="1059.5" stroke="#000" stroke-width="3"/>
<line x1="1193.5" y1="645.5" x2="1193.5" y2="662.5" stroke="#000" stroke-width="3"/>
<line x1="209.5" y1="753.5" x2="226.5" y2="753.5" stroke="#000" stroke-width="3"/>
<line x1="1685.5" y1="753.5" x2="1668.5" y2="753.5" stroke="#000" stroke-width="3"/>
<line x1="209.5" y1="861.5" x2="226.5" y2="861.5" stroke="#000" stroke-width="3"/>
<line x1="1685.5" y1="861.5" x2="1668.5" y2="861.5" stroke="#000" stroke-width="3"/>
<line x1="209.5" y1="968.5" x2="226.5" y2="968.5" stroke="#000" stroke-width="3"/>
<line x1="1685.5" y1="968.5" x2="1668.5" y2="968.5" stroke="#000" stroke-width="3"/>
<g fill="none" stroke-linejoin="round" stroke-linecap="round">
<polyline points="209.5,968.8 210.5,968.8 211.5,968.8 212.5,968.8 213.4,968.8 214.4,968.8 215.4,968.8 216.4,968.8 217.4,968.8 218.4,968.8 219.3,968.8 220.3,968.8 221.3,968.8 222.3,968.8 223.3,968.8 224.3,968.8 225.2,968.8 226.2,968.8 227.2,968.8 228.2,968.8 229.2,968.8 230.2,968.8 231.1,968.8 232.1,968.8 233.1,968.8 234.1,968.8 235.1,968.8 236.1,968.8 237.1,968.8 238.0,968.8 239.0,968.8 240.0,968.8 241.0,968.8 242.0,968.8 243.0,968.8 243.9,968.8 244.9,968.8 245.9,968.8 246.9,968.8 247.9,968.8 248.9,968.8 249.8,968.8 250.8,968.8 251.8,968.8 252.8,968.8 253.8,968.8 254.8,968.8 255.7,968.8 256.7,968.8 257.7,968.8 258.7,968.8 259.7,968.8 260.7,968.8 261.7,968.8 262.6,968.8 263.6,968.8 264.6,968.8 265.6,968.8 266.6,968.8 267.6,968.8 268.5,968.8 269.5,968.8 270.5,968.8 271.5,968.8 272.5,968.8 273.5,968.8 274.4,968.8 275.4,968.8 276.4,968.8 277.4,968.8 278.4,968.8 279.4,968.8 280.3,968.8 281.3,968.8 282.3,968.8 283.3,968.8 284.3,968.8 285.3,968.8 286.3,968.8 287.2,968.8 288.2,968.8 289.2,968.8 290.2,968.8 291.2,968.8 292.2,968.8 293.1,968.8 294.1,968.8 295.1,968.8 296.1,968.8 297.1,968.8 298.1,968.8 299.0,968.8 300.0,968.8 301.0,968.8 302.0,968.8 303.0,968.8 304.0,968.8 304.9,968.8 305.9,968.8 306.9,968.8 307.9,856.9 308.9,861.8 309.9,866.6 310.9,871.1 311.8,875.5 312.8,879.6 313.8,883.6 314.8,887.4 315.8,891.0 316.8,894.4 317.7,897.8 318.7,900.9 319.7,903.9 320.7,906.8 321.7,909.6 322.7,912.2 323.6,914.7 324.6,917.1 325.6,919.4 326.6,921.6 327.6,923.7 328.6,925.7 329.5,927.6 330.5,929.5 331.5,931.2 332.5,932.9 333.5,934.5 334.5,936.0 335.5,937.5 336.4,938.9 337.4,940.2 338.4,941.5 339.4,942.7 340.4,943.8 341.4,945.0 342.3,946.0 343.3,947.0 344.3,948.0 345.3,948.9 346.3,949.8 347.3,950.7 348.2,951.5 349.2,952.2 350.2,953.0 351.2,953.7 352.2,954.3 353.2,955.0 354.1,955.6 355.1,956.2 356.1,956.8 357.1,957.3 358.1,957.8 359.1,958.3 360.1,958.8 361.0,959.2 362.0,959.6 363.0,960.0 364.0,960.4 365.0,960.8 366.0,961.2 366.9,961.5 367.9,961.8 368.9,962.1 369.9,962.4 370.9,962.7 371.9,963.0 372.8,963.3 373.8,963.5 374.8,963.7 375.8,964.0 376.8,964.2 377.8,964.4 378.7,964.6 379.7,964.8 380.7,965.0 381.7,965.1 382.7,965.3 383.7,965.4 384.7,965.6 385.6,965.7 386.6,965.9 387.6,966.0 388.6,966.1 389.6,966.3 390.6,966.4 391.5,966.5 392.5,966.6 393.5,966.7 394.5,966.8 395.5,966.9 396.5,967.0 397.4,967.0 398.4,967.1 399.4,967.2 400.4,967.3 401.4,967.3 402.4,967.4 403.3,967.5 404.3,967.5 405.3,967.6 406.3,965.2 407.3,965.4 408.3,965.5 409.3,965.6 410.2,965.8 411.2,965.9 412.2,966.0 413.2,966.1 414.2,966.2 415.2,966.4 416.1,966.5 417.1,966.5 418.1,966.6 419.1,966.7 420.1,966.8 421.1,966.9 422.0,967.0 423.0,967.1 424.0,967.1 425.0,967.2 426.0,967.3 427.0,967.3 427.9,967.4 428.9,967.4 429.9,967.5 430.9,967.6 431.9,967.6 432.9,967.7 433.9,967.7 434.8,967.8 435.8,967.8 436.8,967.8 437.8,967.9 438.8,967.9 439.8,968.0 440.7,968.0 441.7,968.0 442.7,968.1 443.7,968.1 444.7,968.1 445.7,968.1 446.6,968.2 447.6,968.2 448.6,968.2 449.6,968.3 450.6,968.3 451.6,968.3 452.5,968.3 453.5,968.3 454.5,968.4 455.5,968.4 456.5,968.4 457.5,968.4 458.5,968.4 459.4,968.4 460.4,968.5 461.4,968.5 462.4,968.5 463.4,968.5 464.4,968.5 465.3,968.5 466.3,968.5 467.3,968.6 468.3,968.6 469.3,968.6 470.3,968.6 471.2,968.6 472.2,968.6 473.2,968.6 474.2,968.6 475.2,968.6 476.2,968.6 477.1,968.6 478.1,968.7 479.1,968.7 480.1,968.7 481.1,968.7 482.1,968.7 483.1,968.7 484.0,968.7 485.0,968.7 486.0,968.7 487.0,968.7 488.0,968.7 489.0,968.7 489.9,968.7 490.9,968.7 491.9,968.7 492.9,968.7 493.9,968.7 494.9,968.7 495.8,968.7 496.8,968.8 497.8,968.8 498.8,968.8 499.8,968.8 500.8,968.8 501.7,968.8 502.7,968.8 503.7,968.8 504.7,856.8 505.7,861.8 506.7,866.5 507.7,871.1 508.6,875.4 509.6,879.6 510.6,883.5 511.6,887.3 512.6,890.9 513.6,894.4 514.5,897.7 515.5,900.9 516.5,903.9 517.5,906.8 518.5,909.5 519.5,912.2 520.4,914.7 521.4,917.1 522.4,919.4 523.4,921.6 524.4,923.7 525.4,925.7 526.3,927.6 527.3,929.4 528.3,931.2 529.3,932.9 530.3,934.5 531.3,936.0 532.3,937.5 533.2,938.8 534.2,940.2 535.2,941.5 536.2,942.7 537.2,943.8 538.2,944.9 539.1,946.0 540.1,947.0 541.1,948.0 542.1,948.9 543.1,949.8 544.1,950.6 545.0,951.5 546.0,952.2 547.0,953.0 548.0,953.7 549.0,954.3 550.0,955.0 550.9,955.6 551.9,956.2 552.9,956.7 553.9,957.3 554.9,957.8 555.9,958.3 556.9,958.8 557.8,959.2 558.8,959.6 559.8,960.0 560.8,960.4 561.8,960.8 562.8,961.2 563.7,961.5 564.7,961.8 565.7,962.1 566.7,962.4 567.7,962.7 568.7,963.0 569.6,963.3 570.6,963.5 571.6,963.7 572.6,964.0 573.6,964.2 574.6,964.4 575.5,964.6 576.5,964.8 577.5,965.0 578.5,965.1 579.5,965.3 580.5,965.4 581.5,965.6 582.4,965.7 583.4,965.9 584.4,966.0 585.4,966.1 586.4,966.3 587.4,966.4 588.3,966.5 589.3,966.6 590.3,966.7 591.3,966.8 592.3,966.9 593.3,967.0 594.2,967.0 595.2,967.1 596.2,967.2 597.2,967.3 598.2,967.3 599.2,967.4 600.1,967.5 601.1,967.5 602.1,967.6 603.1,965.2 604.1,965.4 605.1,965.5 606.1,965.6 607.0,965.8 608.0,965.9 609.0,966.0 610.0,966.1 611.0,966.2 612.0,966.3 612.9,966.5 613.9,966.5 614.9,966.6 615.9,966.7 616.9,966.8 617.9,966.9 618.8,967.0 619.8,967.1 620.8,967.1 621.8,967.2 622.8,967.3 623.8,967.3 624.7,967.4 625.7,967.4 626.7,967.5 627.7,967.6 628.7,967.6 629.7,967.7 630.7,967.7 631.6,967.8 632.6,967.8 633.6,967.8 634.6,967.9 635.6,967.9 636.6,968.0 637.5,968.0 638.5,968.0 639.5,968.1 640.5,968.1 641.5,968.1 642.5,968.1 643.4,968.2 644.4,968.2 645.4,968.2 646.4,968.3 647.4,968.3 648.4,968.3 649.3,968.3 650.3,968.3 651.3,968.4 652.3,968.4 653.3,968.4 654.3,968.4 655.3,968.4 656.2,968.4 657.2,968.5 658.2,968.5 659.2,968.5 660.2,968.5 661.2,968.5 662.1,968.5 663.1,968.5 664.1,968.6 665.1,968.6 666.1,968.6 667.1,968.6 668.0,968.6 669.0,968.6 670.0,968.6 671.0,968.6 672.0,968.6 673.0,968.6 673.9,968.6 674.9,968.7 675.9,968.7 676.9,968.7 677.9,968.7 678.9,968.7 679.9,968.7 680.8,968.7 681.8,968.7 682.8,968.7 683.8,968.7 684.8,968.7 685.8,968.7 686.7,968.7 687.7,968.7 688.7,968.7 689.7,968.7 690.7,968.7 691.7,968.7 692.6,968.7 693.6,968.8 694.6,968.8 695.6,968.8 696.6,968.8 697.6,968.8 698.5,968.8 699.5,968.8 700.5,968.8 701.5,851.4 702.5,856.6 703.5,861.6 704.5,866.4 705.4,870.9 706.4,875.3 707.4,879.4 708.4,883.4 709.4,887.2 710.4,890.8 711.3,894.3 712.3,897.6 713.3,900.8 714.3,903.8 715.3,906.7 716.3,909.5 717.2,912.1 718.2,914.6 719.2,917.0 720.2,919.3 721.2,921.5 722.2,923.6 723.1,925.6 724.1,927.6 725.1,929.4 726.1,931.1 727.1,932.8 728.1,934.4 729.1,935.9 730.0,937.4 731.0,938.8 732.0,940.1 733.0,941.4 734.0,942.6 735.0,943.8 735.9,944.9 736.9,946.0 737.9,947.0 738.9,948.0 739.9,948.9 740.9,949.8 741.8,950.6 742.8,951.4 743.8,952.2 744.8,952.9 745.8,953.6 746.8,954.3 747.7,955.0 748.7,955.6 749.7,956.2 750.7,956.7 751.7,957.3 752.7,957.8 753.7,958.3 754.6,958.7 755.6,959.2 756.6,959.6 757.6,960.0 758.6,960.4 759.6,960.8 760.5,961.2 761.5,961.5 762.5,961.8 763.5,962.1 764.5,962.4 765.5,962.7 766.4,963.0 767.4,963.2 768.4,963.5 769.4,963.7 770.4,964.0 771.4,964.2 772.3,964.4 773.3,964.6 774.3,964.8 775.3,964.9 776.3,965.1 777.3,965.3 778.3,965.4 779.2,965.6 780.2,965.7 781.2,965.9 782.2,966.0 783.2,966.1 784.2,966.3 785.1,966.4 786.1,966.5 787.1,966.6 788.1,966.7 789.1,966.8 790.1,966.9 791.0,967.0 792.0,967.0 793.0,967.1 794.0,967.2 795.0,967.3 796.0,967.3 796.9,967.4 797.9,967.5 798.9,967.5 799.9,965.2 800.9,965.3 801.9,965.5 802.9,965.6 803.8,965.7 804.8,965.9 805.8,966.0 806.8,966.1 807.8,966.2 808.8,966.3 809.7,966.4 810.7,966.5 811.7,966.6 812.7,966.7 813.7,966.8 814.7,966.9 815.6,967.0 816.6,967.0 817.6,967.1 818.6,967.2 819.6,967.2 820.6,967.3 821.5,967.4 822.5,967.4 823.5,967.5 824.5,967.5 825.5,967.6 826.5,967.6 827.5,967.7 828.4,967.7 829.4,967.8 830.4,967.8 831.4,967.9 832.4,967.9 833.4,967.9 834.3,968.0 835.3,968.0 836.3,968.0 837.3,968.1 838.3,968.1 839.3,968.1 840.2,968.2 841.2,968.2 842.2,968.2 843.2,968.2 844.2,968.3 845.2,968.3 846.1,968.3 847.1,968.3 848.1,968.4 849.1,968.4 850.1,968.4 851.1,968.4 852.1,968.4 853.0,968.4 854.0,968.5 855.0,968.5 856.0,968.5 857.0,968.5 858.0,968.5 858.9,968.5 859.9,968.5 860.9,968.6 861.9,968.6 862.9,968.6 863.9,968.6 864.8,968.6 865.8,968.6 866.8,968.6 867.8,968.6 868.8,968.6 869.8,968.6 870.7,968.6 871.7,968.7 872.7,968.7 873.7,968.7 874.7,968.7 875.7,968.7 876.7,968.7 877.6,968.7 878.6,968.7 879.6,968.7 880.6,968.7 881.6,968.7 882.6,968.7 883.5,968.7 884.5,968.7 885.5,968.7 886.5,968.7 887.5,968.7 888.5,968.7 889.4,968.7 890.4,968.7 891.4,968.8 892.4,968.8 893.4,968.8 894.4,968.8 895.3,968.8 896.3,968.8 897.3,968.8 898.3,833.1 899.3,839.1 900.3,844.9 901.3,850.4 902.2,855.7 903.2,860.7 904.2,865.5 905.2,870.1 906.2,874.5 907.2,878.7 908.1,882.7 909.1,886.5 910.1,890.2 911.1,893.7 912.1,897.0 913.1,900.2 914.0,903.2 915.0,906.2 916.0,908.9 917.0,911.6 918.0,914.1 919.0,916.6 919.9,918.9 920.9,921.1 921.9,923.2 922.9,925.3 923.9,927.2 924.9,929.0 925.9,930.8 926.8,932.5 927.8,934.1 928.8,935.7 929.8,937.1 930.8,938.5 931.8,939.9 932.7,941.2 933.7,942.4 934.7,943.6 935.7,944.7 936.7,945.8 937.7,946.8 938.6,947.8 939.6,948.7 940.6,949.6 941.6,950.5 942.6,951.3 943.6,952.1 944.5,952.8 945.5,953.5 946.5,954.2 947.5,954.8 948.5,955.5 949.5,956.1 950.5,956.6 951.4,957.2 952.4,957.7 953.4,958.2 954.4,958.7 955.4,959.1 956.4,959.5 957.3,960.0 958.3,960.3 959.3,960.7 960.3,961.1 961.3,961.4 962.3,961.8 963.2,962.1 964.2,962.4 965.2,962.7 966.2,962.9 967.2,963.2 968.2,963.4 969.1,963.7 970.1,963.9 971.1,964.1 972.1,964.3 973.1,964.5 974.1,964.7 975.1,964.9 976.0,965.1 977.0,965.3 978.0,965.4 979.0,965.6 980.0,965.7 981.0,965.8 981.9,966.0 982.9,966.1 983.9,966.2 984.9,966.3 985.9,966.5 986.9,966.6 987.8,966.7 988.8,966.8 989.8,966.8 990.8,966.9 991.8,967.0 992.8,967.1 993.7,967.2 994.7,967.3 995.7,967.3 996.7,965.0 997.7,965.1 998.7,965.3 999.7,965.4 1000.6,965.6 1001.6,965.7 1002.6,965.8 1003.6,966.0 1004.6,966.1 1005.6,966.2 1006.5,966.3 1007.5,966.4 1008.5,966.5 1009.5,966.6 1010.5,966.7 1011.5,966.8 1012.4,966.9 1013.4,966.9 1014.4,967.0 1015.4,967.1 1016.4,967.2 1017.4,967.2 1018.3,967.3 1019.3,967.4 1020.3,967.4 1021.3,967.5 1022.3,967.5 1023.3,967.6 1024.3,967.6 1025.2,967.7 1026.2,967.7 1027.2,967.8 1028.2,967.8 1029.2,967.9 1030.2,967.9 1031.1,967.9 1032.1,968.0 1033.1,968.0 1034.1,968.0 1035.1,968.1 1036.1,968.1 1037.0,968.1 1038.0,968.2 1039.0,968.2 1040.0,968.2 1041.0,968.2 1042.0,968.3 1042.9,968.3 1043.9,968.3 1044.9,968.3 1045.9,968.4 1046.9,968.4 1047.9,968.4 1048.9,968.4 1049.8,968.4 1050.8,968.4 1051.8,968.5 1052.8,968.5 1053.8,968.5 1054.8,968.5 1055.7,968.5 1056.7,968.5 1057.7,968.5 1058.7,968.6 1059.7,968.6 1060.7,968.6 1061.6,968.6 1062.6,968.6 1063.6,968.6 1064.6,968.6 1065.6,968.6 1066.6,968.6 1067.5,968.6 1068.5,968.6 1069.5,968.7 1070.5,968.7 1071.5,968.7 1072.5,968.7 1073.5,968.7 1074.4,968.7 1075.4,968.7 1076.4,968.7 1077.4,968.7 1078.4,968.7 1079.4,968.7 1080.3,968.7 1081.3,968.7 1082.3,968.7 1083.3,968.7 1084.3,968.7 1085.3,968.7 1086.2,968.7 1087.2,968.7 1088.2,968.8 1089.2,968.8 1090.2,968.8 1091.2,968.8 1092.1,968.8 1093.1,968.8 1094.1,968.8 1095.1,819.6 1096.1,826.3 1097.1,832.6 1098.1,838.7 1099.0,844.4 1100.0,850.0 1101.0,855.3 1102.0,860.3 1103.0,865.1 1104.0,869.7 1104.9,874.1 1105.9,878.3 1106.9,882.4 1107.9,886.2 1108.9,889.9 1109.9,893.4 1110.8,896.7 1111.8,899.9 1112.8,903.0 1113.8,905.9 1114.8,908.7 1115.8,911.4 1116.7,913.9 1117.7,916.4 1118.7,918.7 1119.7,920.9 1120.7,923.1 1121.7,925.1 1122.7,927.0 1123.6,928.9 1124.6,930.7 1125.6,932.4 1126.6,934.0 1127.6,935.5 1128.6,937.0 1129.5,938.4 1130.5,939.8 1131.5,941.1 1132.5,942.3 1133.5,943.5 1134.5,944.6 1135.4,945.7 1136.4,946.7 1137.4,947.7 1138.4,948.6 1139.4,949.5 1140.4,950.4 1141.3,951.2 1142.3,952.0 1143.3,952.7 1144.3,953.5 1145.3,954.1 1146.3,954.8 1147.3,955.4 1148.2,956.0 1149.2,956.6 1150.2,957.1 1151.2,957.6 1152.2,958.1 1153.2,958.6 1154.1,959.1 1155.1,959.5 1156.1,959.9 1157.1,960.3 1158.1,960.7 1159.1,961.1 1160.0,961.4 1161.0,961.7 1162.0,962.0 1163.0,962.3 1164.0,962.6 1165.0,962.9 1165.9,963.2 1166.9,963.4 1167.9,963.7 1168.9,963.9 1169.9,964.1 1170.9,964.3 1171.9,964.5 1172.8,964.7 1173.8,964.9 1174.8,965.1 1175.8,965.2 1176.8,965.4 1177.8,965.6 1178.7,965.7 1179.7,965.8 1180.7,966.0 1181.7,966.1 1182.7,966.2 1183.7,966.3 1184.6,966.4 1185.6,966.6 1186.6,966.7 1187.6,966.7 1188.6,966.8 1189.6,966.9 1190.5,967.0 1191.5,967.1 1192.5,967.2 1193.5,964.8 1194.5,965.0 1195.5,965.1 1196.5,965.3 1197.4,965.4 1198.4,965.6 1199.4,965.7 1200.4,965.8 1201.4,966.0 1202.4,966.1 1203.3,966.2 1204.3,966.3 1205.3,966.4 1206.3,966.5 1207.3,966.6 1208.3,966.7 1209.2,966.8 1210.2,966.9 1211.2,967.0 1212.2,967.0 1213.2,967.1 1214.2,967.2 1215.1,967.2 1216.1,967.3 1217.1,967.4 1218.1,967.4 1219.1,967.5 1220.1,967.5 1221.1,967.6 1222.0,967.6 1223.0,967.7 1224.0,967.7 1225.0,967.8 1226.0,967.8 1227.0,967.9 1227.9,967.9 1228.9,967.9 1229.9,968.0 1230.9,968.0 1231.9,968.1 1232.9,968.1 1233.8,968.1 1234.8,968.1 1235.8,968.2 1236.8,968.2 1237.8,968.2 1238.8,968.2 1239.7,968.3 1240.7,968.3 1241.7,968.3 1242.7,968.3 1243.7,968.4 1244.7,968.4 1245.7,968.4 1246.6,968.4 1247.6,968.4 1248.6,968.4 1249.6,968.5 1250.6,968.5 1251.6,968.5 1252.5,968.5 1253.5,968.5 1254.5,968.5 1255.5,968.5 1256.5,968.6 1257.5,968.6 1258.4,968.6 1259.4,968.6 1260.4,968.6 1261.4,968.6 1262.4,968.6 1263.4,968.6 1264.3,968.6 1265.3,968.6 1266.3,968.6 1267.3,968.7 1268.3,968.7 1269.3,968.7 1270.3,968.7 1271.2,968.7 1272.2,968.7 1273.2,968.7 1274.2,968.7 1275.2,968.7 1276.2,968.7 1277.1,968.7 1278.1,968.7 1279.1,968.7 1280.1,968.7 1281.1,968.7 1282.1,968.7 1283.0,968.7 1284.0,968.7 1285.0,968.7 1286.0,968.8 1287.0,968.8 1288.0,968.8 1288.9,968.8 1289.9,968.8 1290.9,968.8 1291.9,856.8 1292.9,861.8 1293.9,866.5 1294.9,871.1 1295.8,875.4 1296.8,879.6 1297.8,883.5 1298.8,887.3 1299.8,890.9 1300.8,894.4 1301.7,897.7 1302.7,900.9 1303.7,903.9 1304.7,906.8 1305.7,909.5 1306.7,912.2 1307.6,914.7 1308.6,917.1 1309.6,919.4 1310.6,921.6 1311.6,923.7 1312.6,925.7 1313.5,927.6 1314.5,929.4 1315.5,931.2 1316.5,932.9 1317.5,934.5 1318.5,936.0 1319.5,937.4 1320.4,938.8 1321.4,940.2 1322.4,941.4 1323.4,942.7 1324.4,943.8 1325.4,944.9 1326.3,946.0 1327.3,947.0 1328.3,948.0 1329.3,948.9 1330.3,949.8 1331.3,950.6 1332.2,951.5 1333.2,952.2 1334.2,953.0 1335.2,953.7 1336.2,954.3 1337.2,955.0 1338.1,955.6 1339.1,956.2 1340.1,956.7 1341.1,957.3 1342.1,957.8 1343.1,958.3 1344.1,958.8 1345.0,959.2 1346.0,959.6 1347.0,960.0 1348.0,960.4 1349.0,960.8 1350.0,961.2 1350.9,961.5 1351.9,961.8 1352.9,962.1 1353.9,962.4 1354.9,962.7 1355.9,963.0 1356.8,963.3 1357.8,963.5 1358.8,963.7 1359.8,964.0 1360.8,964.2 1361.8,964.4 1362.7,964.6 1363.7,964.8 1364.7,965.0 1365.7,965.1 1366.7,965.3 1367.7,965.4 1368.7,965.6 1369.6,965.7 1370.6,965.9 1371.6,966.0 1372.6,966.1 1373.6,966.3 1374.6,966.4 1375.5,966.5 1376.5,966.6 1377.5,966.7 1378.5,966.8 1379.5,966.9 1380.5,967.0 1381.4,967.0 1382.4,967.1 1383.4,967.2 1384.4,967.3 1385.4,967.3 1386.4,967.4 1387.3,967.5 1388.3,967.5 1389.3,967.6 1390.3,965.2 1391.3,965.4 1392.3,965.5 1393.3,965.6 1394.2,965.8 1395.2,965.9 1396.2,966.0 1397.2,966.1 1398.2,966.2 1399.2,966.3 1400.1,966.5 1401.1,966.5 1402.1,966.6 1403.1,966.7 1404.1,966.8 1405.1,966.9 1406.0,967.0 1407.0,967.1 1408.0,967.1 1409.0,967.2 1410.0,967.3 1411.0,967.3 1411.9,967.4 1412.9,967.4 1413.9,967.5 1414.9,967.6 1415.9,967.6 1416.9,967.7 1417.9,967.7 1418.8,967.8 1419.8,967.8 1420.8,967.8 1421.8,967.9 1422.8,967.9 1423.8,968.0 1424.7,968.0 1425.7,968.0 1426.7,968.1 1427.7,968.1 1428.7,968.1 1429.7,968.1 1430.6,968.2 1431.6,968.2 1432.6,968.2 1433.6,968.3 1434.6,968.3 1435.6,968.3 1436.5,968.3 1437.5,968.3 1438.5,968.4 1439.5,968.4 1440.5,968.4 1441.5,968.4 1442.5,968.4 1443.4,968.4 1444.4,968.5 1445.4,968.5 1446.4,968.5 1447.4,968.5 1448.4,968.5 1449.3,968.5 1450.3,968.5 1451.3,968.6 1452.3,968.6 1453.3,968.6 1454.3,968.6 1455.2,968.6 1456.2,968.6 1457.2,968.6 1458.2,968.6 1459.2,968.6 1460.2,968.6 1461.1,968.6 1462.1,968.7 1463.1,968.7 1464.1,968.7 1465.1,968.7 1466.1,968.7 1467.1,968.7 1468.0,968.7 1469.0,968.7 1470.0,968.7 1471.0,968.7 1472.0,968.7 1473.0,968.7 1473.9,968.7 1474.9,968.7 1475.9,968.7 1476.9,968.7 1477.9,968.7 1478.9,968.7 1479.8,968.7 1480.8,968.8 1481.8,968.8 1482.8,968.8 1483.8,968.8 1484.8,968.8 1485.7,968.8 1486.7,968.8 1487.7,968.8 1488.7,968.8 1489.7,968.8 1490.7,968.8 1491.7,968.8 1492.6,968.8 1493.6,968.8 1494.6,968.8 1495.6,968.8 1496.6,968.8 1497.6,968.8 1498.5,968.8 1499.5,968.8 1500.5,968.8 1501.5,968.8 1502.5,968.8 1503.5,968.8 1504.4,968.8 1505.4,968.8 1506.4,968.8 1507.4,968.8 1508.4,968.8 1509.4,968.8 1510.3,968.8 1511.3,968.8 1512.3,968.8 1513.3,968.8 1514.3,968.8 1515.3,968.8 1516.3,968.8 1517.2,968.8 1518.2,968.8 1519.2,968.8 1520.2,968.8 1521.2,968.8 1522.2,968.8 1523.1,968.8 1524.1,968.8 1525.1,968.8 1526.1,968.8 1527.1,968.8 1528.1,968.8 1529.0,968.8 1530.0,968.8 1531.0,968.8 1532.0,968.8 1533.0,968.8 1534.0,968.8 1534.9,968.8 1535.9,968.8 1536.9,968.8 1537.9,968.8 1538.9,968.8 1539.9,968.8 1540.9,968.8 1541.8,968.8 1542.8,968.8 1543.8,968.8 1544.8,968.8 1545.8,968.8 1546.8,968.8 1547.7,968.8 1548.7,968.8 1549.7,968.8 1550.7,968.8 1551.7,968.8 1552.7,968.8 1553.6,968.8 1554.6,968.8 1555.6,968.8 1556.6,968.8 1557.6,968.8 1558.6,968.8 1559.5,968.8 1560.5,968.8 1561.5,968.8 1562.5,968.8 1563.5,968.8 1564.5,968.8 1565.5,968.8 1566.4,968.8 1567.4,968.8 1568.4,968.8 1569.4,968.8 1570.4,968.8 1571.4,968.8 1572.3,968.8 1573.3,968.8 1574.3,968.8 1575.3,968.8 1576.3,968.8 1577.3,968.8 1578.2,968.8 1579.2,968.8 1580.2,968.8 1581.2,968.8 1582.2,968.8 1583.2,968.8 1584.1,968.8 1585.1,968.8 1586.1,968.8 1587.1,968.8 1588.1,968.8 1589.1,968.8 1590.1,968.8 1591.0,968.8 1592.0,968.8 1593.0,968.8 1594.0,968.8 1595.0,968.8 1596.0,968.8 1596.9,968.8 1597.9,968.8 1598.9,968.8 1599.9,968.8 1600.9,968.8 1601.9,968.8 1602.8,968.8 1603.8,968.8 1604.8,968.8 1605.8,968.8 1606.8,968.8 1607.8,968.8 1608.7,968.8 1609.7,968.8 1610.7,968.8 1611.7,968.8 1612.7,968.8 1613.7,968.8 1614.7,968.8 1615.6,968.8 1616.6,968.8 1617.6,968.8 1618.6,968.8 1619.6,968.8 1620.6,968.8 1621.5,968.8 1622.5,968.8 1623.5,968.8 1624.5,968.8 1625.5,968.8 1626.5,968.8 1627.4,968.8 1628.4,968.8 1629.4,968.8 1630.4,968.8 1631.4,968.8 1632.4,968.8 1633.3,968.8 1634.3,968.8 1635.3,968.8 1636.3,968.8 1637.3,968.8 1638.3,968.8 1639.3,968.8 1640.2,968.8 1641.2,968.8 1642.2,968.8 1643.2,968.8 1644.2,968.8 1645.2,968.8 1646.1,968.8 1647.1,968.8 1648.1,968.8 1649.1,968.8 1650.1,968.8 1651.1,968.8 1652.0,968.8 1653.0,968.8 1654.0,968.8 1655.0,968.8 1656.0,968.8 1657.0,968.8 1657.9,968.8 1658.9,968.8 1659.9,968.8 1660.9,968.8 1661.9,968.8 1662.9,968.8 1663.9,968.8 1664.8,968.8 1665.8,968.8 1666.8,968.8 1667.8,968.8 1668.8,968.8 1669.8,968.8 1670.7,968.8 1671.7,968.8 1672.7,968.8 1673.7,968.8 1674.7,968.8 1675.7,968.8 1676.6,968.8 1677.6,968.8 1678.6,968.8 1679.6,968.8 1680.6,968.8 1681.6,968.8 1682.5,968.8 1683.5,968.8 1684.5,968.8 1685.5,968.8" stroke="#0000ff" stroke-width="6"/>
</g>
<g font-family="Liberation Serif, serif" font-size="52" fill="#000">
<text x="189" y="42.5" text-anchor="end" >4</text>
<text x="189" y="186.83333333333334" text-anchor="end" >2</text>
<text x="189" y="331.1666666666667" text-anchor="end" >0</text>
<text x="189" y="475.5" text-anchor="end" >−2</text>
<text x="209.5" y="511" text-anchor="middle" >0</text>
<text x="209.5" y="1134" text-anchor="middle" >0</text>
<text x="701.5" y="511" text-anchor="middle" >5</text>
<text x="701.5" y="1134" text-anchor="middle" >5</text>
<text x="1193.5" y="511" text-anchor="middle" >10</text>
<text x="1193.5" y="1134" text-anchor="middle" >10</text>
<text x="1685.5" y="511" text-anchor="middle" >15</text>
<text x="1685.5" y="1134" text-anchor="middle" >15</text>
<text x="947.5" y="567" text-anchor="middle" >Time (s)</text>
<text x="947.5" y="1190" text-anchor="middle" >Time (s)</text>
<text x="189" y="775.49" text-anchor="end" >0.4</text>
<text x="189" y="883.16" text-anchor="end" >0.2</text>
<text x="189" y="990.83" text-anchor="end" >0</text>
<text x="189" y="1098.5" text-anchor="end" >−0.2</text>
<text transform="translate(101,236) rotate(-90)" text-anchor="middle">Output <tspan font-style="italic">y</tspan></text>
<text transform="translate(64,860) rotate(-90)" text-anchor="middle">Output change Δ<tspan font-style="italic">y</tspan></text>
</g>
<rect x="1149.5" y="45.5" width="505" height="80" fill="#fff" stroke="#000" stroke-width="3"/>
<line x1="1175" y1="86" x2="1289" y2="86" stroke="#000088" stroke-width="2"/>
<line x1="1414" y1="86" x2="1529" y2="86" stroke="#b00000" stroke-width="2" stroke-dasharray="23 8.5 5.7 8.5"/>
<g font-family="Liberation Serif, serif" font-size="52" fill="#000">
<text x="1298" y="95"><tspan font-style="italic">y</tspan>(<tspan font-style="italic">t</tspan>)</text>
<text x="1541" y="95" font-style="italic">y</text>
<text transform="translate(1566,77) scale(0.5)" font-style="italic" font-size="52">n</text>
<text x="1578" y="95">(<tspan font-style="italic">t</tspan>)</text>
</g>
<rect x="1368.5" y="671.5" width="286" height="79" fill="#fff" stroke="#000" stroke-width="3"/>
<line x1="1396" y1="711" x2="1510" y2="711" stroke="#0000ff" stroke-width="6"/>
<g font-family="Liberation Serif, serif" font-size="52" fill="#000">
<text x="1520" y="726.5">Δ<tspan font-style="italic">y</tspan>(<tspan font-style="italic">t</tspan>)</text>
</g></svg></body></html>
